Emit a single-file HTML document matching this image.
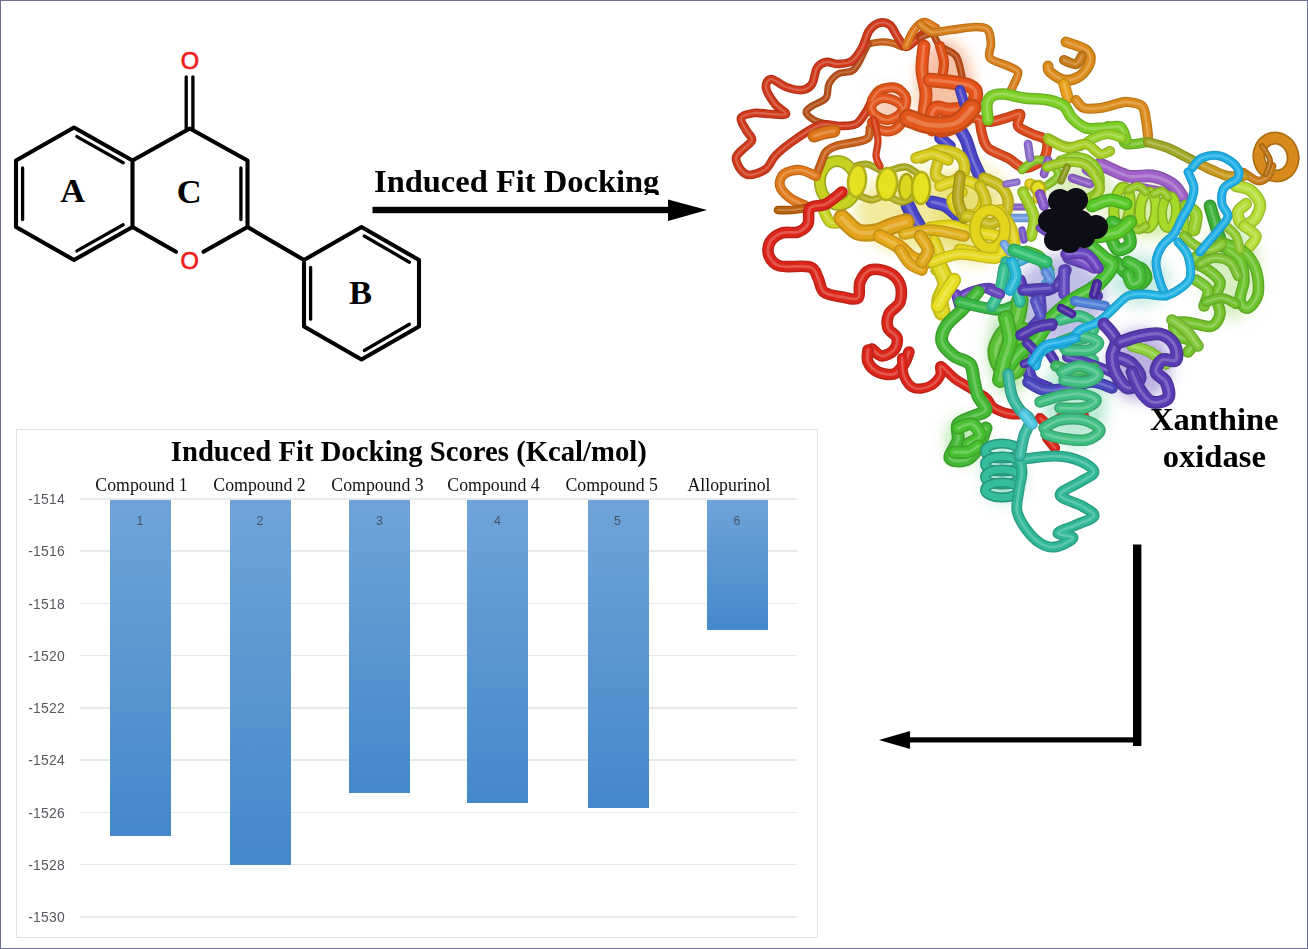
<!DOCTYPE html>
<html>
<head>
<meta charset="utf-8">
<title>Induced Fit Docking - Xanthine oxidase</title>
<style>
html,body{margin:0;padding:0;background:#fff;}
body{width:1308px;height:949px;position:relative;overflow:hidden;font-family:"Liberation Serif",serif;}
#frame{position:absolute;left:0;top:0;width:1306px;height:947px;border:1px solid #6f6c93;box-sizing:content-box;pointer-events:none;}
.abs{position:absolute;white-space:nowrap;}
.bold{font-family:"Liberation Serif",serif;font-weight:bold;color:#000;}
#ifd{left:374px;top:160.8px;height:34.6px;overflow:hidden;font-size:32.5px;line-height:40px;}
#xo{left:1139.3px;top:400.9px;width:150px;text-align:center;font-size:32.6px;line-height:37.4px;}
/* chart */
#chart{position:absolute;left:16px;top:429px;width:800px;height:507px;border:1px solid #dfe2e8;background:#fff;box-sizing:content-box;}
#title{left:170.8px;top:430.6px;font-size:28.7px;line-height:40px;}
.cat{font-family:"Liberation Serif",serif;font-size:17.8px;line-height:20px;color:#111;transform:translateX(-50%);top:475px;}
.yl{font-family:"Liberation Sans",sans-serif;font-size:13.9px;line-height:16px;color:#56595f;left:20px;width:45px;text-align:right;letter-spacing:0.25px;}
.gl{position:absolute;left:80.3px;width:716.5px;height:1.5px;background:#e6e9ee;}
.bar{position:absolute;top:499.8px;width:61px;background:linear-gradient(#70a4d9,#4388cb);}
.dl{font-family:"Liberation Sans",sans-serif;font-size:12.4px;line-height:14px;color:#44566e;transform:translateX(-50%);top:513.5px;}
</style>
</head>
<body>
<!-- PROTEIN -->
<svg id="protein" class="abs" style="left:0;top:0" width="1308" height="949" viewBox="0 0 1308 949">
<!--PROTEIN_START-->
<defs><filter id="pb" x="-5%" y="-5%" width="110%" height="110%"><feGaussianBlur stdDeviation="0.75"/></filter><filter id="ub" x="-30%" y="-30%" width="160%" height="160%"><feGaussianBlur stdDeviation="7"/></filter></defs>
<g fill="none" stroke-linecap="round" stroke-linejoin="round" filter="url(#pb)">
<ellipse cx="925" cy="212" rx="70" ry="42" fill="#e0d020" fill-opacity="0.42" stroke="none" filter="url(#ub)"/>
<ellipse cx="975" cy="215" rx="38" ry="50" fill="#d8cc20" fill-opacity="0.35" stroke="none" filter="url(#ub)"/>
<ellipse cx="945" cy="88" rx="28" ry="48" fill="#e8601c" fill-opacity="0.40" stroke="none" filter="url(#ub)"/>
<ellipse cx="888" cy="110" rx="18" ry="22" fill="#e06020" fill-opacity="0.30" stroke="none" filter="url(#ub)"/>
<ellipse cx="1060" cy="300" rx="45" ry="45" fill="#5858c0" fill-opacity="0.38" stroke="none" filter="url(#ub)"/>
<ellipse cx="1010" cy="350" rx="22" ry="45" fill="#50c038" fill-opacity="0.40" stroke="none" filter="url(#ub)"/>
<ellipse cx="1150" cy="212" rx="44" ry="26" fill="#9cd62c" fill-opacity="0.42" stroke="none" filter="url(#ub)"/>
<ellipse cx="1230" cy="270" rx="30" ry="50" fill="#78c830" fill-opacity="0.30" stroke="none" filter="url(#ub)"/>
<ellipse cx="1140" cy="365" rx="32" ry="36" fill="#5a3cb4" fill-opacity="0.40" stroke="none" filter="url(#ub)"/>
<ellipse cx="1075" cy="400" rx="32" ry="48" fill="#40c088" fill-opacity="0.35" stroke="none" filter="url(#ub)"/>
<ellipse cx="1004" cy="474" rx="20" ry="28" fill="#30b898" fill-opacity="0.45" stroke="none" filter="url(#ub)"/>
<ellipse cx="1080" cy="190" rx="34" ry="24" fill="#90c838" fill-opacity="0.30" stroke="none" filter="url(#ub)"/>
<ellipse cx="1140" cy="280" rx="30" ry="26" fill="#40b8a0" fill-opacity="0.30" stroke="none" filter="url(#ub)"/>
<ellipse cx="965" cy="440" rx="20" ry="24" fill="#48c030" fill-opacity="0.35" stroke="none" filter="url(#ub)"/>
<path d="M958.0 126.0C959.3 128.3 963.7 134.7 966.0 140.0C968.3 145.3 969.7 152.0 972.0 158.0C974.3 164.0 978.7 173.0 980.0 176.0" stroke="#403cac" stroke-width="13.0"/>
<path d="M958.0 126.0C959.3 128.3 963.7 134.7 966.0 140.0C968.3 145.3 969.7 152.0 972.0 158.0C974.3 164.0 978.7 173.0 980.0 176.0" stroke="#4a46c8" stroke-width="9.7"/>
<path d="M958.0 126.0C959.3 128.3 963.7 134.7 966.0 140.0C968.3 145.3 969.7 152.0 972.0 158.0C974.3 164.0 978.7 173.0 980.0 176.0" stroke="#807ed8" stroke-width="3.1" stroke-opacity="0.7"/>
<path d="M940.0 138.0L950.0 146.0" stroke="#403cac" stroke-width="11.6"/>
<path d="M940.0 138.0L950.0 146.0" stroke="#4a46c8" stroke-width="8.6"/>
<path d="M940.0 138.0L950.0 146.0" stroke="#807ed8" stroke-width="2.8" stroke-opacity="0.7"/>
<path d="M908.0 206.0C909.0 208.0 912.0 214.3 914.0 218.0C916.0 221.7 919.0 226.3 920.0 228.0" stroke="#403cac" stroke-width="14.5"/>
<path d="M908.0 206.0C909.0 208.0 912.0 214.3 914.0 218.0C916.0 221.7 919.0 226.3 920.0 228.0" stroke="#4a46c8" stroke-width="10.7"/>
<path d="M908.0 206.0C909.0 208.0 912.0 214.3 914.0 218.0C916.0 221.7 919.0 226.3 920.0 228.0" stroke="#807ed8" stroke-width="3.5" stroke-opacity="0.7"/>
<path d="M932.0 202.0C934.3 202.7 941.3 203.3 946.0 206.0C950.7 208.7 957.7 216.0 960.0 218.0" stroke="#403cac" stroke-width="13.0"/>
<path d="M932.0 202.0C934.3 202.7 941.3 203.3 946.0 206.0C950.7 208.7 957.7 216.0 960.0 218.0" stroke="#4a46c8" stroke-width="9.7"/>
<path d="M932.0 202.0C934.3 202.7 941.3 203.3 946.0 206.0C950.7 208.7 957.7 216.0 960.0 218.0" stroke="#807ed8" stroke-width="3.1" stroke-opacity="0.7"/>
<path d="M1100.0 164.0C1104.7 166.0 1119.3 174.0 1128.0 176.0C1136.7 178.0 1144.7 174.7 1152.0 176.0C1159.3 177.3 1167.0 180.7 1172.0 184.0C1177.0 187.3 1180.3 194.0 1182.0 196.0" stroke="#8a54ac" stroke-width="13.0"/>
<path d="M1100.0 164.0C1104.7 166.0 1119.3 174.0 1128.0 176.0C1136.7 178.0 1144.7 174.7 1152.0 176.0C1159.3 177.3 1167.0 180.7 1172.0 184.0C1177.0 187.3 1180.3 194.0 1182.0 196.0" stroke="#a062c8" stroke-width="9.7"/>
<path d="M1100.0 164.0C1104.7 166.0 1119.3 174.0 1128.0 176.0C1136.7 178.0 1144.7 174.7 1152.0 176.0C1159.3 177.3 1167.0 180.7 1172.0 184.0C1177.0 187.3 1180.3 194.0 1182.0 196.0" stroke="#bc91d8" stroke-width="3.1" stroke-opacity="0.7"/>
<path d="M1134.0 186.0C1136.7 186.5 1144.7 188.0 1150.0 189.0C1155.3 190.0 1163.3 191.5 1166.0 192.0" stroke="#8a54ac" stroke-width="8.7"/>
<path d="M1134.0 186.0C1136.7 186.5 1144.7 188.0 1150.0 189.0C1155.3 190.0 1163.3 191.5 1166.0 192.0" stroke="#a062c8" stroke-width="6.4"/>
<path d="M1134.0 186.0C1136.7 186.5 1144.7 188.0 1150.0 189.0C1155.3 190.0 1163.3 191.5 1166.0 192.0" stroke="#bc91d8" stroke-width="2.1" stroke-opacity="0.7"/>
<path d="M1006.0 207.0L1028.0 207.0" stroke="#7553ac" stroke-width="7.2"/>
<path d="M1006.0 207.0L1028.0 207.0" stroke="#8860c8" stroke-width="5.4"/>
<path d="M1006.0 207.0L1028.0 207.0" stroke="#ac90d8" stroke-width="1.7" stroke-opacity="0.7"/>
<path d="M1008.0 218.0L1028.0 218.0" stroke="#608ac1" stroke-width="8.7"/>
<path d="M1008.0 218.0L1028.0 218.0" stroke="#70a0e0" stroke-width="6.4"/>
<path d="M1008.0 218.0L1028.0 218.0" stroke="#9bbce9" stroke-width="2.1" stroke-opacity="0.7"/>
<path d="M1086.0 170.0L1098.0 178.0" stroke="#7c53ac" stroke-width="8.7"/>
<path d="M1086.0 170.0L1098.0 178.0" stroke="#9060c8" stroke-width="6.4"/>
<path d="M1086.0 170.0L1098.0 178.0" stroke="#b190d8" stroke-width="2.1" stroke-opacity="0.7"/>
<path d="M1020.0 280.0C1021.0 281.7 1021.3 288.3 1026.0 290.0C1030.7 291.7 1042.3 291.3 1048.0 290.0C1053.7 288.7 1057.0 285.3 1060.0 282.0C1063.0 278.7 1065.0 272.0 1066.0 270.0" stroke="#4d349b" stroke-width="11.6"/>
<path d="M1020.0 280.0C1021.0 281.7 1021.3 288.3 1026.0 290.0C1030.7 291.7 1042.3 291.3 1048.0 290.0C1053.7 288.7 1057.0 285.3 1060.0 282.0C1063.0 278.7 1065.0 272.0 1066.0 270.0" stroke="#5a3cb4" stroke-width="8.6"/>
<path d="M1020.0 280.0C1021.0 281.7 1021.3 288.3 1026.0 290.0C1030.7 291.7 1042.3 291.3 1048.0 290.0C1053.7 288.7 1057.0 285.3 1060.0 282.0C1063.0 278.7 1065.0 272.0 1066.0 270.0" stroke="#8c76ca" stroke-width="2.8" stroke-opacity="0.7"/>
<path d="M1040.0 298.0C1040.0 301.3 1042.3 312.3 1040.0 318.0C1037.7 323.7 1028.3 329.7 1026.0 332.0" stroke="#4c3ea5" stroke-width="11.6"/>
<path d="M1040.0 298.0C1040.0 301.3 1042.3 312.3 1040.0 318.0C1037.7 323.7 1028.3 329.7 1026.0 332.0" stroke="#5848c0" stroke-width="8.6"/>
<path d="M1040.0 298.0C1040.0 301.3 1042.3 312.3 1040.0 318.0C1037.7 323.7 1028.3 329.7 1026.0 332.0" stroke="#8a7fd3" stroke-width="2.8" stroke-opacity="0.7"/>
<path d="M1030.0 330.0L1052.0 326.0" stroke="#4d349b" stroke-width="10.2"/>
<path d="M1030.0 330.0L1052.0 326.0" stroke="#5a3cb4" stroke-width="7.5"/>
<path d="M1030.0 330.0L1052.0 326.0" stroke="#8c76ca" stroke-width="2.4" stroke-opacity="0.7"/>
<path d="M1064.0 270.0L1064.0 294.0" stroke="#533ea5" stroke-width="11.6"/>
<path d="M1064.0 270.0L1064.0 294.0" stroke="#6048c0" stroke-width="8.6"/>
<path d="M1064.0 270.0L1064.0 294.0" stroke="#907fd3" stroke-width="2.8" stroke-opacity="0.7"/>
<path d="M1068.0 258.0L1092.0 266.0" stroke="#593ea5" stroke-width="11.6"/>
<path d="M1068.0 258.0L1092.0 266.0" stroke="#6848c0" stroke-width="8.6"/>
<path d="M1068.0 258.0L1092.0 266.0" stroke="#957fd3" stroke-width="2.8" stroke-opacity="0.7"/>
<path d="M1092.0 286.0L1098.0 296.0" stroke="#4d349b" stroke-width="10.2"/>
<path d="M1092.0 286.0L1098.0 296.0" stroke="#5a3cb4" stroke-width="7.5"/>
<path d="M1092.0 286.0L1098.0 296.0" stroke="#8c76ca" stroke-width="2.4" stroke-opacity="0.7"/>
<path d="M1020.0 334.0C1022.0 336.0 1030.7 341.3 1032.0 346.0C1033.3 350.7 1028.0 356.3 1028.0 362.0C1028.0 367.7 1028.7 375.7 1032.0 380.0C1035.3 384.3 1045.3 386.7 1048.0 388.0" stroke="#4537a5" stroke-width="13.0"/>
<path d="M1020.0 334.0C1022.0 336.0 1030.7 341.3 1032.0 346.0C1033.3 350.7 1028.0 356.3 1028.0 362.0C1028.0 367.7 1028.7 375.7 1032.0 380.0C1035.3 384.3 1045.3 386.7 1048.0 388.0" stroke="#5040c0" stroke-width="9.7"/>
<path d="M1020.0 334.0C1022.0 336.0 1030.7 341.3 1032.0 346.0C1033.3 350.7 1028.0 356.3 1028.0 362.0C1028.0 367.7 1028.7 375.7 1032.0 380.0C1035.3 384.3 1045.3 386.7 1048.0 388.0" stroke="#8479d3" stroke-width="3.1" stroke-opacity="0.7"/>
<path d="M1028.0 382.0C1030.7 383.3 1037.3 389.0 1044.0 390.0C1050.7 391.0 1060.0 389.3 1068.0 388.0C1076.0 386.7 1084.7 382.0 1092.0 382.0C1099.3 382.0 1108.7 387.0 1112.0 388.0" stroke="#3e3ea5" stroke-width="11.6"/>
<path d="M1028.0 382.0C1030.7 383.3 1037.3 389.0 1044.0 390.0C1050.7 391.0 1060.0 389.3 1068.0 388.0C1076.0 386.7 1084.7 382.0 1092.0 382.0C1099.3 382.0 1108.7 387.0 1112.0 388.0" stroke="#4848c0" stroke-width="8.6"/>
<path d="M1028.0 382.0C1030.7 383.3 1037.3 389.0 1044.0 390.0C1050.7 391.0 1060.0 389.3 1068.0 388.0C1076.0 386.7 1084.7 382.0 1092.0 382.0C1099.3 382.0 1108.7 387.0 1112.0 388.0" stroke="#7f7fd3" stroke-width="2.8" stroke-opacity="0.7"/>
<path d="M958.0 298.0C960.0 297.0 964.7 293.7 970.0 292.0C975.3 290.3 985.3 287.7 990.0 288.0C994.7 288.3 996.7 293.0 998.0 294.0" stroke="#5b3ea5" stroke-width="10.2"/>
<path d="M958.0 298.0C960.0 297.0 964.7 293.7 970.0 292.0C975.3 290.3 985.3 287.7 990.0 288.0C994.7 288.3 996.7 293.0 998.0 294.0" stroke="#6a48c0" stroke-width="7.5"/>
<path d="M958.0 298.0C960.0 297.0 964.7 293.7 970.0 292.0C975.3 290.3 985.3 287.7 990.0 288.0C994.7 288.3 996.7 293.0 998.0 294.0" stroke="#977fd3" stroke-width="2.4" stroke-opacity="0.7"/>
<path d="M956.0 294.0L960.0 308.0" stroke="#5b3ea5" stroke-width="10.2"/>
<path d="M956.0 294.0L960.0 308.0" stroke="#6a48c0" stroke-width="7.5"/>
<path d="M956.0 294.0L960.0 308.0" stroke="#977fd3" stroke-width="2.4" stroke-opacity="0.7"/>
<path d="M850.0 168.0C852.7 167.3 861.0 163.7 866.0 164.0C871.0 164.3 877.7 169.0 880.0 170.0" stroke="#90921c" stroke-width="7.2"/>
<path d="M850.0 168.0C852.7 167.3 861.0 163.7 866.0 164.0C871.0 164.3 877.7 169.0 880.0 170.0" stroke="#a8aa20" stroke-width="5.4"/>
<path d="M850.0 168.0C852.7 167.3 861.0 163.7 866.0 164.0C871.0 164.3 877.7 169.0 880.0 170.0" stroke="#c2c463" stroke-width="1.7" stroke-opacity="0.7"/>
<path d="M892.0 170.0C894.3 169.5 901.7 166.3 906.0 167.0C910.3 167.7 916.0 172.8 918.0 174.0" stroke="#90921c" stroke-width="7.2"/>
<path d="M892.0 170.0C894.3 169.5 901.7 166.3 906.0 167.0C910.3 167.7 916.0 172.8 918.0 174.0" stroke="#a8aa20" stroke-width="5.4"/>
<path d="M892.0 170.0C894.3 169.5 901.7 166.3 906.0 167.0C910.3 167.7 916.0 172.8 918.0 174.0" stroke="#c2c463" stroke-width="1.7" stroke-opacity="0.7"/>
<path d="M860.0 196.0C862.0 196.7 868.3 200.0 872.0 200.0C875.7 200.0 880.3 196.7 882.0 196.0" stroke="#9b971c" stroke-width="7.2"/>
<path d="M860.0 196.0C862.0 196.7 868.3 200.0 872.0 200.0C875.7 200.0 880.3 196.7 882.0 196.0" stroke="#b4b020" stroke-width="5.4"/>
<path d="M860.0 196.0C862.0 196.7 868.3 200.0 872.0 200.0C875.7 200.0 880.3 196.7 882.0 196.0" stroke="#cac863" stroke-width="1.7" stroke-opacity="0.7"/>
<path d="M892.0 198.0C893.7 198.7 898.7 202.0 902.0 202.0C905.3 202.0 910.3 198.7 912.0 198.0" stroke="#9b971c" stroke-width="7.2"/>
<path d="M892.0 198.0C893.7 198.7 898.7 202.0 902.0 202.0C905.3 202.0 910.3 198.7 912.0 198.0" stroke="#b4b020" stroke-width="5.4"/>
<path d="M892.0 198.0C893.7 198.7 898.7 202.0 902.0 202.0C905.3 202.0 910.3 198.7 912.0 198.0" stroke="#cac863" stroke-width="1.7" stroke-opacity="0.7"/>
<ellipse cx="838.0" cy="183.0" rx="18.0" ry="22.0" stroke="#9ea81b" stroke-width="12.0" transform="rotate(-8 838 183)"/>
<ellipse cx="838.0" cy="183.0" rx="18.0" ry="22.0" stroke="#c6d222" stroke-width="8.6" transform="rotate(-8 838 183)"/>
<ellipse cx="857.0" cy="181.0" rx="9.0" ry="16.0" fill="#e4e022" stroke="#b2af1b" stroke-width="2.5" transform="rotate(6 857 181)"/>
<ellipse cx="887.0" cy="184.0" rx="10.0" ry="16.0" fill="#e6e220" stroke="#b3b019" stroke-width="2.5" transform="rotate(4 887 184)"/>
<ellipse cx="906.0" cy="187.0" rx="7.0" ry="13.0" fill="#dcd820" stroke="#aca819" stroke-width="2.5" transform="rotate(4 906 187)"/>
<ellipse cx="921.0" cy="188.0" rx="9.0" ry="16.0" fill="#e6e220" stroke="#b3b019" stroke-width="2.5" transform="rotate(2 921 188)"/>
<path d="M822.0 206.0C823.3 208.7 826.5 219.3 830.0 222.0C833.5 224.7 840.8 222.0 843.0 222.0" stroke="#acb61f" stroke-width="11.6"/>
<path d="M822.0 206.0C823.3 208.7 826.5 219.3 830.0 222.0C833.5 224.7 840.8 222.0 843.0 222.0" stroke="#c8d424" stroke-width="8.6"/>
<path d="M822.0 206.0C823.3 208.7 826.5 219.3 830.0 222.0C833.5 224.7 840.8 222.0 843.0 222.0" stroke="#d8e166" stroke-width="2.8" stroke-opacity="0.7"/>
<path d="M842.0 218.0C844.7 220.3 852.3 229.7 858.0 232.0C863.7 234.3 870.3 233.0 876.0 232.0C881.7 231.0 887.0 227.7 892.0 226.0C897.0 224.3 903.7 222.7 906.0 222.0" stroke="#c48d18" stroke-width="17.4"/>
<path d="M842.0 218.0C844.7 220.3 852.3 229.7 858.0 232.0C863.7 234.3 870.3 233.0 876.0 232.0C881.7 231.0 887.0 227.7 892.0 226.0C897.0 224.3 903.7 222.7 906.0 222.0" stroke="#e4a41c" stroke-width="12.9"/>
<path d="M842.0 218.0C844.7 220.3 852.3 229.7 858.0 232.0C863.7 234.3 870.3 233.0 876.0 232.0C881.7 231.0 887.0 227.7 892.0 226.0C897.0 224.3 903.7 222.7 906.0 222.0" stroke="#ecbf60" stroke-width="4.2" stroke-opacity="0.7"/>
<path d="M880.0 236.0C883.0 237.7 892.7 242.3 898.0 246.0C903.3 249.7 907.3 255.3 912.0 258.0C916.7 260.7 923.7 261.3 926.0 262.0" stroke="#c89018" stroke-width="14.5"/>
<path d="M880.0 236.0C883.0 237.7 892.7 242.3 898.0 246.0C903.3 249.7 907.3 255.3 912.0 258.0C916.7 260.7 923.7 261.3 926.0 262.0" stroke="#e8a81c" stroke-width="10.7"/>
<path d="M880.0 236.0C883.0 237.7 892.7 242.3 898.0 246.0C903.3 249.7 907.3 255.3 912.0 258.0C916.7 260.7 923.7 261.3 926.0 262.0" stroke="#efc260" stroke-width="3.5" stroke-opacity="0.7"/>
<path d="M900.0 250.0C901.7 252.3 906.3 260.7 910.0 264.0C913.7 267.3 920.0 269.0 922.0 270.0" stroke="#c48d18" stroke-width="11.6"/>
<path d="M900.0 250.0C901.7 252.3 906.3 260.7 910.0 264.0C913.7 267.3 920.0 269.0 922.0 270.0" stroke="#e4a41c" stroke-width="8.6"/>
<path d="M900.0 250.0C901.7 252.3 906.3 260.7 910.0 264.0C913.7 267.3 920.0 269.0 922.0 270.0" stroke="#ecbf60" stroke-width="2.8" stroke-opacity="0.7"/>
<path d="M922.0 158.0C925.0 156.7 933.7 150.3 940.0 150.0C946.3 149.7 956.0 152.3 960.0 156.0C964.0 159.7 965.7 167.7 964.0 172.0C962.3 176.3 954.7 181.3 950.0 182.0C945.3 182.7 938.0 179.3 936.0 176.0C934.0 172.7 937.7 164.3 938.0 162.0" stroke="#b6ac1a" stroke-width="11.6"/>
<path d="M922.0 158.0C925.0 156.7 933.7 150.3 940.0 150.0C946.3 149.7 956.0 152.3 960.0 156.0C964.0 159.7 965.7 167.7 964.0 172.0C962.3 176.3 954.7 181.3 950.0 182.0C945.3 182.7 938.0 179.3 936.0 176.0C934.0 172.7 937.7 164.3 938.0 162.0" stroke="#d4c81e" stroke-width="8.6"/>
<path d="M922.0 158.0C925.0 156.7 933.7 150.3 940.0 150.0C946.3 149.7 956.0 152.3 960.0 156.0C964.0 159.7 965.7 167.7 964.0 172.0C962.3 176.3 954.7 181.3 950.0 182.0C945.3 182.7 938.0 179.3 936.0 176.0C934.0 172.7 937.7 164.3 938.0 162.0" stroke="#e1d862" stroke-width="2.8" stroke-opacity="0.7"/>
<path d="M940.0 186.0C943.3 185.0 953.7 180.0 960.0 180.0C966.3 180.0 974.0 182.7 978.0 186.0C982.0 189.3 984.3 195.3 984.0 200.0C983.7 204.7 980.0 212.0 976.0 214.0C972.0 216.0 964.0 214.3 960.0 212.0C956.0 209.7 951.7 203.3 952.0 200.0C952.3 196.7 960.3 193.3 962.0 192.0" stroke="#c1b61c" stroke-width="11.6"/>
<path d="M940.0 186.0C943.3 185.0 953.7 180.0 960.0 180.0C966.3 180.0 974.0 182.7 978.0 186.0C982.0 189.3 984.3 195.3 984.0 200.0C983.7 204.7 980.0 212.0 976.0 214.0C972.0 216.0 964.0 214.3 960.0 212.0C956.0 209.7 951.7 203.3 952.0 200.0C952.3 196.7 960.3 193.3 962.0 192.0" stroke="#e0d420" stroke-width="8.6"/>
<path d="M940.0 186.0C943.3 185.0 953.7 180.0 960.0 180.0C966.3 180.0 974.0 182.7 978.0 186.0C982.0 189.3 984.3 195.3 984.0 200.0C983.7 204.7 980.0 212.0 976.0 214.0C972.0 216.0 964.0 214.3 960.0 212.0C956.0 209.7 951.7 203.3 952.0 200.0C952.3 196.7 960.3 193.3 962.0 192.0" stroke="#e9e163" stroke-width="2.8" stroke-opacity="0.7"/>
<path d="M984.0 178.0C986.7 179.3 996.0 182.3 1000.0 186.0C1004.0 189.7 1007.3 195.0 1008.0 200.0C1008.7 205.0 1007.0 212.0 1004.0 216.0C1001.0 220.0 994.3 223.7 990.0 224.0C985.7 224.3 980.0 219.0 978.0 218.0" stroke="#aca21a" stroke-width="11.6"/>
<path d="M984.0 178.0C986.7 179.3 996.0 182.3 1000.0 186.0C1004.0 189.7 1007.3 195.0 1008.0 200.0C1008.7 205.0 1007.0 212.0 1004.0 216.0C1001.0 220.0 994.3 223.7 990.0 224.0C985.7 224.3 980.0 219.0 978.0 218.0" stroke="#c8bc1e" stroke-width="8.6"/>
<path d="M984.0 178.0C986.7 179.3 996.0 182.3 1000.0 186.0C1004.0 189.7 1007.3 195.0 1008.0 200.0C1008.7 205.0 1007.0 212.0 1004.0 216.0C1001.0 220.0 994.3 223.7 990.0 224.0C985.7 224.3 980.0 219.0 978.0 218.0" stroke="#d8d062" stroke-width="2.8" stroke-opacity="0.7"/>
<path d="M930.0 228.0C933.3 227.7 943.0 225.3 950.0 226.0C957.0 226.7 964.3 230.3 972.0 232.0C979.7 233.7 990.7 233.7 996.0 236.0C1001.3 238.3 1004.0 242.7 1004.0 246.0C1004.0 249.3 1000.0 254.7 996.0 256.0C992.0 257.3 986.0 255.0 980.0 254.0C974.0 253.0 963.3 250.7 960.0 250.0" stroke="#c8ba1a" stroke-width="13.0"/>
<path d="M930.0 228.0C933.3 227.7 943.0 225.3 950.0 226.0C957.0 226.7 964.3 230.3 972.0 232.0C979.7 233.7 990.7 233.7 996.0 236.0C1001.3 238.3 1004.0 242.7 1004.0 246.0C1004.0 249.3 1000.0 254.7 996.0 256.0C992.0 257.3 986.0 255.0 980.0 254.0C974.0 253.0 963.3 250.7 960.0 250.0" stroke="#e8d81e" stroke-width="9.7"/>
<path d="M930.0 228.0C933.3 227.7 943.0 225.3 950.0 226.0C957.0 226.7 964.3 230.3 972.0 232.0C979.7 233.7 990.7 233.7 996.0 236.0C1001.3 238.3 1004.0 242.7 1004.0 246.0C1004.0 249.3 1000.0 254.7 996.0 256.0C992.0 257.3 986.0 255.0 980.0 254.0C974.0 253.0 963.3 250.7 960.0 250.0" stroke="#efe462" stroke-width="3.1" stroke-opacity="0.7"/>
<path d="M934.0 240.0C935.0 242.7 939.7 251.0 940.0 256.0C940.3 261.0 936.7 267.7 936.0 270.0" stroke="#c1b31c" stroke-width="11.6"/>
<path d="M934.0 240.0C935.0 242.7 939.7 251.0 940.0 256.0C940.3 261.0 936.7 267.7 936.0 270.0" stroke="#e0d020" stroke-width="8.6"/>
<path d="M934.0 240.0C935.0 242.7 939.7 251.0 940.0 256.0C940.3 261.0 936.7 267.7 936.0 270.0" stroke="#e9de63" stroke-width="2.8" stroke-opacity="0.7"/>
<path d="M940.0 268.0C941.0 270.7 946.0 278.7 946.0 284.0C946.0 289.3 940.7 295.3 940.0 300.0C939.3 304.7 941.7 310.0 942.0 312.0" stroke="#c1ba1c" stroke-width="17.4"/>
<path d="M940.0 268.0C941.0 270.7 946.0 278.7 946.0 284.0C946.0 289.3 940.7 295.3 940.0 300.0C939.3 304.7 941.7 310.0 942.0 312.0" stroke="#e0d820" stroke-width="12.9"/>
<path d="M940.0 268.0C941.0 270.7 946.0 278.7 946.0 284.0C946.0 289.3 940.7 295.3 940.0 300.0C939.3 304.7 941.7 310.0 942.0 312.0" stroke="#e9e463" stroke-width="4.2" stroke-opacity="0.7"/>
<path d="M1000.0 210.0C1002.0 213.3 1009.7 223.3 1012.0 230.0C1014.3 236.7 1015.3 245.3 1014.0 250.0C1012.7 254.7 1005.7 256.7 1004.0 258.0" stroke="#c1b31c" stroke-width="11.6"/>
<path d="M1000.0 210.0C1002.0 213.3 1009.7 223.3 1012.0 230.0C1014.3 236.7 1015.3 245.3 1014.0 250.0C1012.7 254.7 1005.7 256.7 1004.0 258.0" stroke="#e0d020" stroke-width="8.6"/>
<path d="M1000.0 210.0C1002.0 213.3 1009.7 223.3 1012.0 230.0C1014.3 236.7 1015.3 245.3 1014.0 250.0C1012.7 254.7 1005.7 256.7 1004.0 258.0" stroke="#e9de63" stroke-width="2.8" stroke-opacity="0.7"/>
<path d="M954.0 280.0C952.7 282.0 948.7 287.7 946.0 292.0C943.3 296.3 939.3 303.7 938.0 306.0" stroke="#c8c11c" stroke-width="14.5"/>
<path d="M954.0 280.0C952.7 282.0 948.7 287.7 946.0 292.0C943.3 296.3 939.3 303.7 938.0 306.0" stroke="#e8e020" stroke-width="10.7"/>
<path d="M954.0 280.0C952.7 282.0 948.7 287.7 946.0 292.0C943.3 296.3 939.3 303.7 938.0 306.0" stroke="#efe963" stroke-width="3.5" stroke-opacity="0.7"/>
<path d="M960.0 176.0C959.7 180.0 957.3 193.0 958.0 200.0C958.7 207.0 963.0 215.0 964.0 218.0" stroke="#9e9018" stroke-width="11.6"/>
<path d="M960.0 176.0C959.7 180.0 957.3 193.0 958.0 200.0C958.7 207.0 963.0 215.0 964.0 218.0" stroke="#b8a81c" stroke-width="8.6"/>
<path d="M960.0 176.0C959.7 180.0 957.3 193.0 958.0 200.0C958.7 207.0 963.0 215.0 964.0 218.0" stroke="#cdc260" stroke-width="2.8" stroke-opacity="0.7"/>
<path d="M980.0 186.0C981.0 188.7 986.0 197.0 986.0 202.0C986.0 207.0 983.3 213.7 980.0 216.0C976.7 218.3 968.3 216.0 966.0 216.0" stroke="#b3a91a" stroke-width="11.6"/>
<path d="M980.0 186.0C981.0 188.7 986.0 197.0 986.0 202.0C986.0 207.0 983.3 213.7 980.0 216.0C976.7 218.3 968.3 216.0 966.0 216.0" stroke="#d0c41e" stroke-width="8.6"/>
<path d="M980.0 186.0C981.0 188.7 986.0 197.0 986.0 202.0C986.0 207.0 983.3 213.7 980.0 216.0C976.7 218.3 968.3 216.0 966.0 216.0" stroke="#ded662" stroke-width="2.8" stroke-opacity="0.7"/>
<ellipse cx="990" cy="229" rx="15" ry="19" stroke="#bbae19" stroke-width="12"/>
<ellipse cx="990" cy="229" rx="15" ry="19" stroke="#e4d41e" stroke-width="9"/>
<path d="M904.0 234.0C908.7 233.3 922.0 229.7 932.0 230.0C942.0 230.3 958.7 235.0 964.0 236.0" stroke="#c19718" stroke-width="11.6"/>
<path d="M904.0 234.0C908.7 233.3 922.0 229.7 932.0 230.0C942.0 230.3 958.7 235.0 964.0 236.0" stroke="#e0b01c" stroke-width="8.6"/>
<path d="M904.0 234.0C908.7 233.3 922.0 229.7 932.0 230.0C942.0 230.3 958.7 235.0 964.0 236.0" stroke="#e9c860" stroke-width="2.8" stroke-opacity="0.7"/>
<path d="M932.0 262.0C936.7 260.7 949.3 254.7 960.0 254.0C970.7 253.3 988.7 259.3 996.0 258.0C1003.3 256.7 1002.7 248.0 1004.0 246.0" stroke="#c6ba1a" stroke-width="11.6"/>
<path d="M932.0 262.0C936.7 260.7 949.3 254.7 960.0 254.0C970.7 253.3 988.7 259.3 996.0 258.0C1003.3 256.7 1002.7 248.0 1004.0 246.0" stroke="#e6d81e" stroke-width="8.6"/>
<path d="M932.0 262.0C936.7 260.7 949.3 254.7 960.0 254.0C970.7 253.3 988.7 259.3 996.0 258.0C1003.3 256.7 1002.7 248.0 1004.0 246.0" stroke="#eee462" stroke-width="2.8" stroke-opacity="0.7"/>
<path d="M916.0 158.0C918.7 157.3 926.7 153.7 932.0 154.0C937.3 154.3 945.3 159.0 948.0 160.0" stroke="#baaf1a" stroke-width="11.6"/>
<path d="M916.0 158.0C918.7 157.3 926.7 153.7 932.0 154.0C937.3 154.3 945.3 159.0 948.0 160.0" stroke="#d8cc1e" stroke-width="8.6"/>
<path d="M916.0 158.0C918.7 157.3 926.7 153.7 932.0 154.0C937.3 154.3 945.3 159.0 948.0 160.0" stroke="#e4db62" stroke-width="2.8" stroke-opacity="0.7"/>
<path d="M1030.0 184.0C1031.7 185.0 1038.7 187.7 1040.0 190.0C1041.3 192.3 1038.3 196.7 1038.0 198.0" stroke="#c1b31c" stroke-width="11.6"/>
<path d="M1030.0 184.0C1031.7 185.0 1038.7 187.7 1040.0 190.0C1041.3 192.3 1038.3 196.7 1038.0 198.0" stroke="#e0d020" stroke-width="8.6"/>
<path d="M1030.0 184.0C1031.7 185.0 1038.7 187.7 1040.0 190.0C1041.3 192.3 1038.3 196.7 1038.0 198.0" stroke="#e9de63" stroke-width="2.8" stroke-opacity="0.7"/>
<path d="M920.0 236.0C921.3 238.3 927.7 245.7 928.0 250.0C928.3 254.3 923.0 260.0 922.0 262.0" stroke="#c19018" stroke-width="13.0"/>
<path d="M920.0 236.0C921.3 238.3 927.7 245.7 928.0 250.0C928.3 254.3 923.0 260.0 922.0 262.0" stroke="#e0a81c" stroke-width="9.7"/>
<path d="M920.0 236.0C921.3 238.3 927.7 245.7 928.0 250.0C928.3 254.3 923.0 260.0 922.0 262.0" stroke="#e9c260" stroke-width="3.1" stroke-opacity="0.7"/>
<path d="M868.0 44.0C870.0 43.7 876.0 42.2 880.0 42.0C884.0 41.8 888.3 42.2 892.0 43.0C895.7 43.8 900.3 46.3 902.0 47.0" stroke="#ac5316" stroke-width="7.2"/>
<path d="M868.0 44.0C870.0 43.7 876.0 42.2 880.0 42.0C884.0 41.8 888.3 42.2 892.0 43.0C895.7 43.8 900.3 46.3 902.0 47.0" stroke="#c8601a" stroke-width="5.4"/>
<path d="M868.0 44.0C870.0 43.7 876.0 42.2 880.0 42.0C884.0 41.8 888.3 42.2 892.0 43.0C895.7 43.8 900.3 46.3 902.0 47.0" stroke="#d8905f" stroke-width="1.7" stroke-opacity="0.7"/>
<path d="M868.0 44.0C867.3 45.3 865.7 48.7 864.0 52.0C862.3 55.3 860.0 60.8 858.0 64.0C856.0 67.2 855.3 69.3 852.0 71.0C848.7 72.7 841.8 71.8 838.0 74.0C834.2 76.2 831.0 80.0 829.0 84.0C827.0 88.0 828.8 94.3 826.0 98.0C823.2 101.7 815.3 103.7 812.0 106.0C808.7 108.3 805.7 109.7 806.0 112.0C806.3 114.3 810.7 118.0 814.0 120.0C817.3 122.0 824.0 123.3 826.0 124.0" stroke="#9c4516" stroke-width="7.2"/>
<path d="M868.0 44.0C867.3 45.3 865.7 48.7 864.0 52.0C862.3 55.3 860.0 60.8 858.0 64.0C856.0 67.2 855.3 69.3 852.0 71.0C848.7 72.7 841.8 71.8 838.0 74.0C834.2 76.2 831.0 80.0 829.0 84.0C827.0 88.0 828.8 94.3 826.0 98.0C823.2 101.7 815.3 103.7 812.0 106.0C808.7 108.3 805.7 109.7 806.0 112.0C806.3 114.3 810.7 118.0 814.0 120.0C817.3 122.0 824.0 123.3 826.0 124.0" stroke="#b5501a" stroke-width="5.4"/>
<path d="M868.0 44.0C867.3 45.3 865.7 48.7 864.0 52.0C862.3 55.3 860.0 60.8 858.0 64.0C856.0 67.2 855.3 69.3 852.0 71.0C848.7 72.7 841.8 71.8 838.0 74.0C834.2 76.2 831.0 80.0 829.0 84.0C827.0 88.0 828.8 94.3 826.0 98.0C823.2 101.7 815.3 103.7 812.0 106.0C808.7 108.3 805.7 109.7 806.0 112.0C806.3 114.3 810.7 118.0 814.0 120.0C817.3 122.0 824.0 123.3 826.0 124.0" stroke="#cb845f" stroke-width="1.7" stroke-opacity="0.7"/>
<path d="M930.0 28.0C928.0 29.7 922.0 34.8 918.0 38.0C914.0 41.2 909.5 47.3 906.0 47.0C902.5 46.7 899.7 39.7 897.0 36.0C894.3 32.3 893.0 27.2 890.0 25.0C887.0 22.8 882.5 22.0 879.0 23.0C875.5 24.0 871.8 26.8 869.0 31.0C866.2 35.2 864.8 43.0 862.0 48.0C859.2 53.0 856.0 58.3 852.0 61.0C848.0 63.7 842.3 63.8 838.0 64.0C833.7 64.2 829.5 61.3 826.0 62.0C822.5 62.7 819.3 64.3 817.0 68.0C814.7 71.7 814.5 80.3 812.0 84.0C809.5 87.7 806.3 89.5 802.0 90.0C797.7 90.5 791.2 88.8 786.0 87.0C780.8 85.2 774.3 78.8 771.0 79.0C767.7 79.2 765.3 83.8 766.0 88.0C766.7 92.2 771.7 99.7 775.0 104.0C778.3 108.3 786.8 112.3 786.0 114.0C785.2 115.7 775.3 114.2 770.0 114.0C764.7 113.8 758.8 112.3 754.0 113.0C749.2 113.7 742.3 115.2 741.0 118.0C739.7 120.8 744.2 126.3 746.0 130.0C747.8 133.7 752.7 136.7 752.0 140.0C751.3 143.3 744.7 147.0 742.0 150.0C739.3 153.0 736.2 154.7 736.0 158.0C735.8 161.3 738.7 167.2 741.0 170.0C743.3 172.8 745.8 175.2 750.0 175.0C754.2 174.8 761.7 172.3 766.0 169.0C770.3 165.7 771.0 160.0 776.0 155.0C781.0 150.0 788.7 144.0 796.0 139.0C803.3 134.0 812.7 127.2 820.0 125.0C827.3 122.8 834.0 126.2 840.0 126.0C846.0 125.8 851.7 126.3 856.0 124.0C860.3 121.7 863.3 116.0 866.0 112.0C868.7 108.0 871.0 102.0 872.0 100.0" stroke="#b23218" stroke-width="8.7"/>
<path d="M930.0 28.0C928.0 29.7 922.0 34.8 918.0 38.0C914.0 41.2 909.5 47.3 906.0 47.0C902.5 46.7 899.7 39.7 897.0 36.0C894.3 32.3 893.0 27.2 890.0 25.0C887.0 22.8 882.5 22.0 879.0 23.0C875.5 24.0 871.8 26.8 869.0 31.0C866.2 35.2 864.8 43.0 862.0 48.0C859.2 53.0 856.0 58.3 852.0 61.0C848.0 63.7 842.3 63.8 838.0 64.0C833.7 64.2 829.5 61.3 826.0 62.0C822.5 62.7 819.3 64.3 817.0 68.0C814.7 71.7 814.5 80.3 812.0 84.0C809.5 87.7 806.3 89.5 802.0 90.0C797.7 90.5 791.2 88.8 786.0 87.0C780.8 85.2 774.3 78.8 771.0 79.0C767.7 79.2 765.3 83.8 766.0 88.0C766.7 92.2 771.7 99.7 775.0 104.0C778.3 108.3 786.8 112.3 786.0 114.0C785.2 115.7 775.3 114.2 770.0 114.0C764.7 113.8 758.8 112.3 754.0 113.0C749.2 113.7 742.3 115.2 741.0 118.0C739.7 120.8 744.2 126.3 746.0 130.0C747.8 133.7 752.7 136.7 752.0 140.0C751.3 143.3 744.7 147.0 742.0 150.0C739.3 153.0 736.2 154.7 736.0 158.0C735.8 161.3 738.7 167.2 741.0 170.0C743.3 172.8 745.8 175.2 750.0 175.0C754.2 174.8 761.7 172.3 766.0 169.0C770.3 165.7 771.0 160.0 776.0 155.0C781.0 150.0 788.7 144.0 796.0 139.0C803.3 134.0 812.7 127.2 820.0 125.0C827.3 122.8 834.0 126.2 840.0 126.0C846.0 125.8 851.7 126.3 856.0 124.0C860.3 121.7 863.3 116.0 866.0 112.0C868.7 108.0 871.0 102.0 872.0 100.0" stroke="#cf3a1c" stroke-width="6.4"/>
<path d="M930.0 28.0C928.0 29.7 922.0 34.8 918.0 38.0C914.0 41.2 909.5 47.3 906.0 47.0C902.5 46.7 899.7 39.7 897.0 36.0C894.3 32.3 893.0 27.2 890.0 25.0C887.0 22.8 882.5 22.0 879.0 23.0C875.5 24.0 871.8 26.8 869.0 31.0C866.2 35.2 864.8 43.0 862.0 48.0C859.2 53.0 856.0 58.3 852.0 61.0C848.0 63.7 842.3 63.8 838.0 64.0C833.7 64.2 829.5 61.3 826.0 62.0C822.5 62.7 819.3 64.3 817.0 68.0C814.7 71.7 814.5 80.3 812.0 84.0C809.5 87.7 806.3 89.5 802.0 90.0C797.7 90.5 791.2 88.8 786.0 87.0C780.8 85.2 774.3 78.8 771.0 79.0C767.7 79.2 765.3 83.8 766.0 88.0C766.7 92.2 771.7 99.7 775.0 104.0C778.3 108.3 786.8 112.3 786.0 114.0C785.2 115.7 775.3 114.2 770.0 114.0C764.7 113.8 758.8 112.3 754.0 113.0C749.2 113.7 742.3 115.2 741.0 118.0C739.7 120.8 744.2 126.3 746.0 130.0C747.8 133.7 752.7 136.7 752.0 140.0C751.3 143.3 744.7 147.0 742.0 150.0C739.3 153.0 736.2 154.7 736.0 158.0C735.8 161.3 738.7 167.2 741.0 170.0C743.3 172.8 745.8 175.2 750.0 175.0C754.2 174.8 761.7 172.3 766.0 169.0C770.3 165.7 771.0 160.0 776.0 155.0C781.0 150.0 788.7 144.0 796.0 139.0C803.3 134.0 812.7 127.2 820.0 125.0C827.3 122.8 834.0 126.2 840.0 126.0C846.0 125.8 851.7 126.3 856.0 124.0C860.3 121.7 863.3 116.0 866.0 112.0C868.7 108.0 871.0 102.0 872.0 100.0" stroke="#dd7560" stroke-width="2.1" stroke-opacity="0.7"/>
<path d="M906.0 46.0C907.3 43.3 911.0 34.0 914.0 30.0C917.0 26.0 920.3 22.3 924.0 22.0C927.7 21.7 934.0 27.0 936.0 28.0" stroke="#c16918" stroke-width="8.7"/>
<path d="M906.0 46.0C907.3 43.3 911.0 34.0 914.0 30.0C917.0 26.0 920.3 22.3 924.0 22.0C927.7 21.7 934.0 27.0 936.0 28.0" stroke="#e07a1c" stroke-width="6.4"/>
<path d="M906.0 46.0C907.3 43.3 911.0 34.0 914.0 30.0C917.0 26.0 920.3 22.3 924.0 22.0C927.7 21.7 934.0 27.0 936.0 28.0" stroke="#e9a260" stroke-width="2.1" stroke-opacity="0.7"/>
<path d="M870.0 128.0C869.7 129.7 870.3 135.7 868.0 138.0C865.7 140.3 861.3 140.7 856.0 142.0C850.7 143.3 841.0 144.3 836.0 146.0C831.0 147.7 828.7 148.7 826.0 152.0C823.3 155.3 821.7 162.0 820.0 166.0C818.3 170.0 816.7 174.3 816.0 176.0" stroke="#ac5318" stroke-width="8.7"/>
<path d="M870.0 128.0C869.7 129.7 870.3 135.7 868.0 138.0C865.7 140.3 861.3 140.7 856.0 142.0C850.7 143.3 841.0 144.3 836.0 146.0C831.0 147.7 828.7 148.7 826.0 152.0C823.3 155.3 821.7 162.0 820.0 166.0C818.3 170.0 816.7 174.3 816.0 176.0" stroke="#c8601c" stroke-width="6.4"/>
<path d="M870.0 128.0C869.7 129.7 870.3 135.7 868.0 138.0C865.7 140.3 861.3 140.7 856.0 142.0C850.7 143.3 841.0 144.3 836.0 146.0C831.0 147.7 828.7 148.7 826.0 152.0C823.3 155.3 821.7 162.0 820.0 166.0C818.3 170.0 816.7 174.3 816.0 176.0" stroke="#d89060" stroke-width="2.1" stroke-opacity="0.7"/>
<path d="M814.0 136.0C815.7 135.5 820.7 133.8 824.0 133.0C827.3 132.2 832.3 131.3 834.0 131.0" stroke="#c16516" stroke-width="13.0"/>
<path d="M814.0 136.0C815.7 135.5 820.7 133.8 824.0 133.0C827.3 132.2 832.3 131.3 834.0 131.0" stroke="#e0761a" stroke-width="9.7"/>
<path d="M814.0 136.0C815.7 135.5 820.7 133.8 824.0 133.0C827.3 132.2 832.3 131.3 834.0 131.0" stroke="#e99f5f" stroke-width="3.1" stroke-opacity="0.7"/>
<path d="M872.0 100.0C873.3 98.3 876.0 92.0 880.0 90.0C884.0 88.0 891.7 86.7 896.0 88.0C900.3 89.3 905.0 94.0 906.0 98.0C907.0 102.0 905.0 108.3 902.0 112.0C899.0 115.7 892.7 119.7 888.0 120.0C883.3 120.3 876.7 116.7 874.0 114.0C871.3 111.3 870.3 106.7 872.0 104.0C873.7 101.3 879.3 98.0 884.0 98.0C888.7 98.0 896.7 100.7 900.0 104.0C903.3 107.3 905.0 113.7 904.0 118.0C903.0 122.3 898.0 128.0 894.0 130.0C890.0 132.0 883.7 131.3 880.0 130.0C876.3 128.7 873.3 123.3 872.0 122.0" stroke="#c24916" stroke-width="10.2"/>
<path d="M872.0 100.0C873.3 98.3 876.0 92.0 880.0 90.0C884.0 88.0 891.7 86.7 896.0 88.0C900.3 89.3 905.0 94.0 906.0 98.0C907.0 102.0 905.0 108.3 902.0 112.0C899.0 115.7 892.7 119.7 888.0 120.0C883.3 120.3 876.7 116.7 874.0 114.0C871.3 111.3 870.3 106.7 872.0 104.0C873.7 101.3 879.3 98.0 884.0 98.0C888.7 98.0 896.7 100.7 900.0 104.0C903.3 107.3 905.0 113.7 904.0 118.0C903.0 122.3 898.0 128.0 894.0 130.0C890.0 132.0 883.7 131.3 880.0 130.0C876.3 128.7 873.3 123.3 872.0 122.0" stroke="#e2551a" stroke-width="7.5"/>
<path d="M872.0 100.0C873.3 98.3 876.0 92.0 880.0 90.0C884.0 88.0 891.7 86.7 896.0 88.0C900.3 89.3 905.0 94.0 906.0 98.0C907.0 102.0 905.0 108.3 902.0 112.0C899.0 115.7 892.7 119.7 888.0 120.0C883.3 120.3 876.7 116.7 874.0 114.0C871.3 111.3 870.3 106.7 872.0 104.0C873.7 101.3 879.3 98.0 884.0 98.0C888.7 98.0 896.7 100.7 900.0 104.0C903.3 107.3 905.0 113.7 904.0 118.0C903.0 122.3 898.0 128.0 894.0 130.0C890.0 132.0 883.7 131.3 880.0 130.0C876.3 128.7 873.3 123.3 872.0 122.0" stroke="#eb885f" stroke-width="2.4" stroke-opacity="0.7"/>
<path d="M874.0 120.0C874.7 123.3 877.7 134.0 878.0 140.0C878.3 146.0 875.7 151.7 876.0 156.0C876.3 160.3 879.3 164.3 880.0 166.0" stroke="#ba3716" stroke-width="7.2"/>
<path d="M874.0 120.0C874.7 123.3 877.7 134.0 878.0 140.0C878.3 146.0 875.7 151.7 876.0 156.0C876.3 160.3 879.3 164.3 880.0 166.0" stroke="#d8401a" stroke-width="5.4"/>
<path d="M874.0 120.0C874.7 123.3 877.7 134.0 878.0 140.0C878.3 146.0 875.7 151.7 876.0 156.0C876.3 160.3 879.3 164.3 880.0 166.0" stroke="#e4795f" stroke-width="1.7" stroke-opacity="0.7"/>
<path d="M920.0 38.0C922.0 37.3 928.7 32.7 932.0 34.0C935.3 35.3 936.0 42.3 940.0 46.0C944.0 49.7 952.3 51.0 956.0 56.0C959.7 61.0 961.0 72.7 962.0 76.0" stroke="#9e4011" stroke-width="7.2"/>
<path d="M920.0 38.0C922.0 37.3 928.7 32.7 932.0 34.0C935.3 35.3 936.0 42.3 940.0 46.0C944.0 49.7 952.3 51.0 956.0 56.0C959.7 61.0 961.0 72.7 962.0 76.0" stroke="#b84a14" stroke-width="5.4"/>
<path d="M920.0 38.0C922.0 37.3 928.7 32.7 932.0 34.0C935.3 35.3 936.0 42.3 940.0 46.0C944.0 49.7 952.3 51.0 956.0 56.0C959.7 61.0 961.0 72.7 962.0 76.0" stroke="#cd805b" stroke-width="1.7" stroke-opacity="0.7"/>
<path d="M924.0 46.0C923.7 50.0 921.7 62.0 922.0 70.0C922.3 78.0 925.7 86.0 926.0 94.0C926.3 102.0 923.0 112.0 924.0 118.0C925.0 124.0 930.7 128.0 932.0 130.0" stroke="#c84816" stroke-width="13.0"/>
<path d="M924.0 46.0C923.7 50.0 921.7 62.0 922.0 70.0C922.3 78.0 925.7 86.0 926.0 94.0C926.3 102.0 923.0 112.0 924.0 118.0C925.0 124.0 930.7 128.0 932.0 130.0" stroke="#e8541a" stroke-width="9.7"/>
<path d="M924.0 46.0C923.7 50.0 921.7 62.0 922.0 70.0C922.3 78.0 925.7 86.0 926.0 94.0C926.3 102.0 923.0 112.0 924.0 118.0C925.0 124.0 930.7 128.0 932.0 130.0" stroke="#ef875f" stroke-width="3.1" stroke-opacity="0.7"/>
<path d="M940.0 46.0C940.7 48.7 943.7 56.7 944.0 62.0C944.3 67.3 942.3 75.3 942.0 78.0" stroke="#c14515" stroke-width="10.2"/>
<path d="M940.0 46.0C940.7 48.7 943.7 56.7 944.0 62.0C944.3 67.3 942.3 75.3 942.0 78.0" stroke="#e05018" stroke-width="7.5"/>
<path d="M940.0 46.0C940.7 48.7 943.7 56.7 944.0 62.0C944.3 67.3 942.3 75.3 942.0 78.0" stroke="#e9845d" stroke-width="2.4" stroke-opacity="0.7"/>
<path d="M930.0 80.0C933.3 80.3 943.3 81.0 950.0 82.0C956.7 83.0 965.7 84.0 970.0 86.0C974.3 88.0 976.0 90.7 976.0 94.0C976.0 97.3 974.3 103.3 970.0 106.0C965.7 108.7 955.7 109.7 950.0 110.0C944.3 110.3 939.0 106.7 936.0 108.0C933.0 109.3 931.3 114.3 932.0 118.0C932.7 121.7 936.0 128.7 940.0 130.0C944.0 131.3 951.0 128.3 956.0 126.0C961.0 123.7 967.7 117.7 970.0 116.0" stroke="#c84816" stroke-width="14.5"/>
<path d="M930.0 80.0C933.3 80.3 943.3 81.0 950.0 82.0C956.7 83.0 965.7 84.0 970.0 86.0C974.3 88.0 976.0 90.7 976.0 94.0C976.0 97.3 974.3 103.3 970.0 106.0C965.7 108.7 955.7 109.7 950.0 110.0C944.3 110.3 939.0 106.7 936.0 108.0C933.0 109.3 931.3 114.3 932.0 118.0C932.7 121.7 936.0 128.7 940.0 130.0C944.0 131.3 951.0 128.3 956.0 126.0C961.0 123.7 967.7 117.7 970.0 116.0" stroke="#e8541a" stroke-width="10.7"/>
<path d="M930.0 80.0C933.3 80.3 943.3 81.0 950.0 82.0C956.7 83.0 965.7 84.0 970.0 86.0C974.3 88.0 976.0 90.7 976.0 94.0C976.0 97.3 974.3 103.3 970.0 106.0C965.7 108.7 955.7 109.7 950.0 110.0C944.3 110.3 939.0 106.7 936.0 108.0C933.0 109.3 931.3 114.3 932.0 118.0C932.7 121.7 936.0 128.7 940.0 130.0C944.0 131.3 951.0 128.3 956.0 126.0C961.0 123.7 967.7 117.7 970.0 116.0" stroke="#ef875f" stroke-width="3.5" stroke-opacity="0.7"/>
<path d="M920.0 24.0C922.0 25.3 927.0 31.0 932.0 32.0C937.0 33.0 942.7 30.8 950.0 30.0C957.3 29.2 969.7 27.0 976.0 27.0C982.3 27.0 985.5 27.2 988.0 30.0C990.5 32.8 990.7 39.3 991.0 44.0C991.3 48.7 987.2 54.3 990.0 58.0C992.8 61.7 1003.3 63.7 1008.0 66.0C1012.7 68.3 1017.0 69.0 1018.0 72.0C1019.0 75.0 1015.3 80.7 1014.0 84.0C1012.7 87.3 1010.7 90.7 1010.0 92.0" stroke="#ba6e18" stroke-width="8.7"/>
<path d="M920.0 24.0C922.0 25.3 927.0 31.0 932.0 32.0C937.0 33.0 942.7 30.8 950.0 30.0C957.3 29.2 969.7 27.0 976.0 27.0C982.3 27.0 985.5 27.2 988.0 30.0C990.5 32.8 990.7 39.3 991.0 44.0C991.3 48.7 987.2 54.3 990.0 58.0C992.8 61.7 1003.3 63.7 1008.0 66.0C1012.7 68.3 1017.0 69.0 1018.0 72.0C1019.0 75.0 1015.3 80.7 1014.0 84.0C1012.7 87.3 1010.7 90.7 1010.0 92.0" stroke="#d8801c" stroke-width="6.4"/>
<path d="M920.0 24.0C922.0 25.3 927.0 31.0 932.0 32.0C937.0 33.0 942.7 30.8 950.0 30.0C957.3 29.2 969.7 27.0 976.0 27.0C982.3 27.0 985.5 27.2 988.0 30.0C990.5 32.8 990.7 39.3 991.0 44.0C991.3 48.7 987.2 54.3 990.0 58.0C992.8 61.7 1003.3 63.7 1008.0 66.0C1012.7 68.3 1017.0 69.0 1018.0 72.0C1019.0 75.0 1015.3 80.7 1014.0 84.0C1012.7 87.3 1010.7 90.7 1010.0 92.0" stroke="#e4a660" stroke-width="2.1" stroke-opacity="0.7"/>
<path d="M970.0 116.0C973.0 117.0 982.0 121.7 988.0 122.0C994.0 122.3 1000.7 119.3 1006.0 118.0C1011.3 116.7 1018.0 112.7 1020.0 114.0C1022.0 115.3 1016.0 122.7 1018.0 126.0C1020.0 129.3 1027.3 131.7 1032.0 134.0C1036.7 136.3 1043.7 136.7 1046.0 140.0C1048.3 143.3 1047.0 150.3 1046.0 154.0C1045.0 157.7 1043.7 159.7 1040.0 162.0C1036.3 164.3 1029.3 168.7 1024.0 168.0C1018.7 167.3 1014.0 161.3 1008.0 158.0C1002.0 154.7 992.3 152.0 988.0 148.0C983.7 144.0 983.3 138.3 982.0 134.0C980.7 129.7 980.3 124.0 980.0 122.0" stroke="#bd4018" stroke-width="10.2"/>
<path d="M970.0 116.0C973.0 117.0 982.0 121.7 988.0 122.0C994.0 122.3 1000.7 119.3 1006.0 118.0C1011.3 116.7 1018.0 112.7 1020.0 114.0C1022.0 115.3 1016.0 122.7 1018.0 126.0C1020.0 129.3 1027.3 131.7 1032.0 134.0C1036.7 136.3 1043.7 136.7 1046.0 140.0C1048.3 143.3 1047.0 150.3 1046.0 154.0C1045.0 157.7 1043.7 159.7 1040.0 162.0C1036.3 164.3 1029.3 168.7 1024.0 168.0C1018.7 167.3 1014.0 161.3 1008.0 158.0C1002.0 154.7 992.3 152.0 988.0 148.0C983.7 144.0 983.3 138.3 982.0 134.0C980.7 129.7 980.3 124.0 980.0 122.0" stroke="#dc4a1c" stroke-width="7.5"/>
<path d="M970.0 116.0C973.0 117.0 982.0 121.7 988.0 122.0C994.0 122.3 1000.7 119.3 1006.0 118.0C1011.3 116.7 1018.0 112.7 1020.0 114.0C1022.0 115.3 1016.0 122.7 1018.0 126.0C1020.0 129.3 1027.3 131.7 1032.0 134.0C1036.7 136.3 1043.7 136.7 1046.0 140.0C1048.3 143.3 1047.0 150.3 1046.0 154.0C1045.0 157.7 1043.7 159.7 1040.0 162.0C1036.3 164.3 1029.3 168.7 1024.0 168.0C1018.7 167.3 1014.0 161.3 1008.0 158.0C1002.0 154.7 992.3 152.0 988.0 148.0C983.7 144.0 983.3 138.3 982.0 134.0C980.7 129.7 980.3 124.0 980.0 122.0" stroke="#e68060" stroke-width="2.4" stroke-opacity="0.7"/>
<path d="M1066.0 42.0C1069.3 43.3 1082.0 46.7 1086.0 50.0C1090.0 53.3 1091.0 57.7 1090.0 62.0C1089.0 66.3 1084.3 73.0 1080.0 76.0C1075.7 79.0 1069.0 80.7 1064.0 80.0C1059.0 79.3 1052.7 74.3 1050.0 72.0C1047.3 69.7 1048.3 67.0 1048.0 66.0" stroke="#bd7818" stroke-width="10.9"/>
<path d="M1066.0 42.0C1069.3 43.3 1082.0 46.7 1086.0 50.0C1090.0 53.3 1091.0 57.7 1090.0 62.0C1089.0 66.3 1084.3 73.0 1080.0 76.0C1075.7 79.0 1069.0 80.7 1064.0 80.0C1059.0 79.3 1052.7 74.3 1050.0 72.0C1047.3 69.7 1048.3 67.0 1048.0 66.0" stroke="#dc8c1c" stroke-width="8.0"/>
<path d="M1066.0 42.0C1069.3 43.3 1082.0 46.7 1086.0 50.0C1090.0 53.3 1091.0 57.7 1090.0 62.0C1089.0 66.3 1084.3 73.0 1080.0 76.0C1075.7 79.0 1069.0 80.7 1064.0 80.0C1059.0 79.3 1052.7 74.3 1050.0 72.0C1047.3 69.7 1048.3 67.0 1048.0 66.0" stroke="#e6ae60" stroke-width="2.6" stroke-opacity="0.7"/>
<path d="M1064.0 60.0C1066.0 60.7 1073.0 64.7 1076.0 64.0C1079.0 63.3 1081.0 57.3 1082.0 56.0" stroke="#ac6b16" stroke-width="10.2"/>
<path d="M1064.0 60.0C1066.0 60.7 1073.0 64.7 1076.0 64.0C1079.0 63.3 1081.0 57.3 1082.0 56.0" stroke="#c87c1a" stroke-width="7.5"/>
<path d="M1064.0 60.0C1066.0 60.7 1073.0 64.7 1076.0 64.0C1079.0 63.3 1081.0 57.3 1082.0 56.0" stroke="#d8a35f" stroke-width="2.4" stroke-opacity="0.7"/>
<path d="M1064.0 84.0L1068.0 98.0" stroke="#c88a18" stroke-width="11.6"/>
<path d="M1064.0 84.0L1068.0 98.0" stroke="#e8a01c" stroke-width="8.6"/>
<path d="M1064.0 84.0L1068.0 98.0" stroke="#efbc60" stroke-width="2.8" stroke-opacity="0.7"/>
<path d="M1076.0 100.0C1077.3 101.3 1080.0 106.7 1084.0 108.0C1088.0 109.3 1094.0 108.8 1100.0 108.0C1106.0 107.2 1115.3 104.0 1120.0 103.0C1124.7 102.0 1124.3 101.5 1128.0 102.0C1131.7 102.5 1139.0 103.0 1142.0 106.0C1145.0 109.0 1145.0 115.0 1146.0 120.0C1147.0 125.0 1147.7 133.3 1148.0 136.0" stroke="#bd7818" stroke-width="10.2"/>
<path d="M1076.0 100.0C1077.3 101.3 1080.0 106.7 1084.0 108.0C1088.0 109.3 1094.0 108.8 1100.0 108.0C1106.0 107.2 1115.3 104.0 1120.0 103.0C1124.7 102.0 1124.3 101.5 1128.0 102.0C1131.7 102.5 1139.0 103.0 1142.0 106.0C1145.0 109.0 1145.0 115.0 1146.0 120.0C1147.0 125.0 1147.7 133.3 1148.0 136.0" stroke="#dc8c1c" stroke-width="7.5"/>
<path d="M1076.0 100.0C1077.3 101.3 1080.0 106.7 1084.0 108.0C1088.0 109.3 1094.0 108.8 1100.0 108.0C1106.0 107.2 1115.3 104.0 1120.0 103.0C1124.7 102.0 1124.3 101.5 1128.0 102.0C1131.7 102.5 1139.0 103.0 1142.0 106.0C1145.0 109.0 1145.0 115.0 1146.0 120.0C1147.0 125.0 1147.7 133.3 1148.0 136.0" stroke="#e6ae60" stroke-width="2.4" stroke-opacity="0.7"/>
<ellipse cx="1276.0" cy="157.0" rx="17.0" ry="19.0" stroke="#ad6e16" stroke-width="13.0" transform="rotate(-15 1276 157)"/>
<ellipse cx="1276.0" cy="157.0" rx="17.0" ry="19.0" stroke="#d88a1c" stroke-width="9.4" transform="rotate(-15 1276 157)"/>
<path d="M1243.0 172.0C1245.5 173.5 1253.8 180.3 1258.0 181.0C1262.2 181.7 1265.7 178.5 1268.0 176.0C1270.3 173.5 1271.3 167.7 1272.0 166.0" stroke="#ac6b15" stroke-width="8.7"/>
<path d="M1243.0 172.0C1245.5 173.5 1253.8 180.3 1258.0 181.0C1262.2 181.7 1265.7 178.5 1268.0 176.0C1270.3 173.5 1271.3 167.7 1272.0 166.0" stroke="#c87c18" stroke-width="6.4"/>
<path d="M1243.0 172.0C1245.5 173.5 1253.8 180.3 1258.0 181.0C1262.2 181.7 1265.7 178.5 1268.0 176.0C1270.3 173.5 1271.3 167.7 1272.0 166.0" stroke="#d8a35d" stroke-width="2.1" stroke-opacity="0.7"/>
<path d="M1262.0 146.0C1263.3 148.3 1269.3 155.3 1270.0 160.0C1270.7 164.7 1266.7 171.7 1266.0 174.0" stroke="#9e6011" stroke-width="5.8"/>
<path d="M1262.0 146.0C1263.3 148.3 1269.3 155.3 1270.0 160.0C1270.7 164.7 1266.7 171.7 1266.0 174.0" stroke="#b87014" stroke-width="4.3"/>
<path d="M1262.0 146.0C1263.3 148.3 1269.3 155.3 1270.0 160.0C1270.7 164.7 1266.7 171.7 1266.0 174.0" stroke="#cd9b5b" stroke-width="1.4" stroke-opacity="0.7"/>
<path d="M816.0 176.0C813.3 175.0 805.3 170.3 800.0 170.0C794.7 169.7 787.3 171.3 784.0 174.0C780.7 176.7 779.0 182.0 780.0 186.0C781.0 190.0 785.7 194.7 790.0 198.0C794.3 201.3 803.3 204.7 806.0 206.0" stroke="#c16918" stroke-width="10.2"/>
<path d="M816.0 176.0C813.3 175.0 805.3 170.3 800.0 170.0C794.7 169.7 787.3 171.3 784.0 174.0C780.7 176.7 779.0 182.0 780.0 186.0C781.0 190.0 785.7 194.7 790.0 198.0C794.3 201.3 803.3 204.7 806.0 206.0" stroke="#e07a1c" stroke-width="7.5"/>
<path d="M816.0 176.0C813.3 175.0 805.3 170.3 800.0 170.0C794.7 169.7 787.3 171.3 784.0 174.0C780.7 176.7 779.0 182.0 780.0 186.0C781.0 190.0 785.7 194.7 790.0 198.0C794.3 201.3 803.3 204.7 806.0 206.0" stroke="#e9a260" stroke-width="2.4" stroke-opacity="0.7"/>
<path d="M778.0 210.0C780.3 210.0 787.3 210.3 792.0 210.0C796.7 209.7 803.7 208.3 806.0 208.0" stroke="#9e530d" stroke-width="8.7"/>
<path d="M778.0 210.0C780.3 210.0 787.3 210.3 792.0 210.0C796.7 209.7 803.7 208.3 806.0 208.0" stroke="#b8600f" stroke-width="6.4"/>
<path d="M778.0 210.0C780.3 210.0 787.3 210.3 792.0 210.0C796.7 209.7 803.7 208.3 806.0 208.0" stroke="#cd9057" stroke-width="2.1" stroke-opacity="0.7"/>
<path d="M842.0 192.0C839.3 194.0 831.3 201.3 826.0 204.0C820.7 206.7 813.0 204.7 810.0 208.0C807.0 211.3 810.0 220.0 808.0 224.0C806.0 228.0 802.3 230.5 798.0 232.0C793.7 233.5 786.7 231.3 782.0 233.0C777.3 234.7 772.2 238.2 770.0 242.0C767.8 245.8 767.3 252.0 769.0 256.0C770.7 260.0 773.2 264.2 780.0 266.0C786.8 267.8 803.7 265.0 810.0 267.0C816.3 269.0 815.7 273.8 818.0 278.0C820.3 282.2 820.0 288.8 824.0 292.0C828.0 295.2 836.3 296.0 842.0 297.0C847.7 298.0 855.0 300.5 858.0 298.0C861.0 295.5 858.0 286.7 860.0 282.0C862.0 277.3 865.3 271.7 870.0 270.0C874.7 268.3 883.0 269.7 888.0 272.0C893.0 274.3 898.0 279.0 900.0 284.0C902.0 289.0 901.8 297.0 900.0 302.0C898.2 307.0 891.0 309.7 889.0 314.0C887.0 318.3 886.7 324.0 888.0 328.0C889.3 332.0 896.0 334.3 897.0 338.0C898.0 341.7 896.5 347.0 894.0 350.0C891.5 353.0 885.7 356.2 882.0 356.0C878.3 355.8 873.7 350.2 872.0 349.0" stroke="#bd2218" stroke-width="11.6"/>
<path d="M842.0 192.0C839.3 194.0 831.3 201.3 826.0 204.0C820.7 206.7 813.0 204.7 810.0 208.0C807.0 211.3 810.0 220.0 808.0 224.0C806.0 228.0 802.3 230.5 798.0 232.0C793.7 233.5 786.7 231.3 782.0 233.0C777.3 234.7 772.2 238.2 770.0 242.0C767.8 245.8 767.3 252.0 769.0 256.0C770.7 260.0 773.2 264.2 780.0 266.0C786.8 267.8 803.7 265.0 810.0 267.0C816.3 269.0 815.7 273.8 818.0 278.0C820.3 282.2 820.0 288.8 824.0 292.0C828.0 295.2 836.3 296.0 842.0 297.0C847.7 298.0 855.0 300.5 858.0 298.0C861.0 295.5 858.0 286.7 860.0 282.0C862.0 277.3 865.3 271.7 870.0 270.0C874.7 268.3 883.0 269.7 888.0 272.0C893.0 274.3 898.0 279.0 900.0 284.0C902.0 289.0 901.8 297.0 900.0 302.0C898.2 307.0 891.0 309.7 889.0 314.0C887.0 318.3 886.7 324.0 888.0 328.0C889.3 332.0 896.0 334.3 897.0 338.0C898.0 341.7 896.5 347.0 894.0 350.0C891.5 353.0 885.7 356.2 882.0 356.0C878.3 355.8 873.7 350.2 872.0 349.0" stroke="#dc281c" stroke-width="8.6"/>
<path d="M842.0 192.0C839.3 194.0 831.3 201.3 826.0 204.0C820.7 206.7 813.0 204.7 810.0 208.0C807.0 211.3 810.0 220.0 808.0 224.0C806.0 228.0 802.3 230.5 798.0 232.0C793.7 233.5 786.7 231.3 782.0 233.0C777.3 234.7 772.2 238.2 770.0 242.0C767.8 245.8 767.3 252.0 769.0 256.0C770.7 260.0 773.2 264.2 780.0 266.0C786.8 267.8 803.7 265.0 810.0 267.0C816.3 269.0 815.7 273.8 818.0 278.0C820.3 282.2 820.0 288.8 824.0 292.0C828.0 295.2 836.3 296.0 842.0 297.0C847.7 298.0 855.0 300.5 858.0 298.0C861.0 295.5 858.0 286.7 860.0 282.0C862.0 277.3 865.3 271.7 870.0 270.0C874.7 268.3 883.0 269.7 888.0 272.0C893.0 274.3 898.0 279.0 900.0 284.0C902.0 289.0 901.8 297.0 900.0 302.0C898.2 307.0 891.0 309.7 889.0 314.0C887.0 318.3 886.7 324.0 888.0 328.0C889.3 332.0 896.0 334.3 897.0 338.0C898.0 341.7 896.5 347.0 894.0 350.0C891.5 353.0 885.7 356.2 882.0 356.0C878.3 355.8 873.7 350.2 872.0 349.0" stroke="#e66960" stroke-width="2.8" stroke-opacity="0.7"/>
<path d="M868.0 350.0C868.0 352.0 866.3 358.3 868.0 362.0C869.7 365.7 873.7 370.0 878.0 372.0C882.3 374.0 889.7 375.3 894.0 374.0C898.3 372.7 901.5 367.7 904.0 364.0C906.5 360.3 908.2 354.0 909.0 352.0" stroke="#bd2218" stroke-width="11.6"/>
<path d="M868.0 350.0C868.0 352.0 866.3 358.3 868.0 362.0C869.7 365.7 873.7 370.0 878.0 372.0C882.3 374.0 889.7 375.3 894.0 374.0C898.3 372.7 901.5 367.7 904.0 364.0C906.5 360.3 908.2 354.0 909.0 352.0" stroke="#dc281c" stroke-width="8.6"/>
<path d="M868.0 350.0C868.0 352.0 866.3 358.3 868.0 362.0C869.7 365.7 873.7 370.0 878.0 372.0C882.3 374.0 889.7 375.3 894.0 374.0C898.3 372.7 901.5 367.7 904.0 364.0C906.5 360.3 908.2 354.0 909.0 352.0" stroke="#e66960" stroke-width="2.8" stroke-opacity="0.7"/>
<path d="M902.0 358.0C902.3 361.0 902.0 371.0 904.0 376.0C906.0 381.0 909.7 386.3 914.0 388.0C918.3 389.7 925.7 388.0 930.0 386.0C934.3 384.0 938.2 379.3 940.0 376.0C941.8 372.7 938.7 365.7 941.0 366.0C943.3 366.3 949.2 374.3 954.0 378.0C958.8 381.7 964.7 384.7 970.0 388.0C975.3 391.3 982.0 394.7 986.0 398.0C990.0 401.3 990.0 405.3 994.0 408.0C998.0 410.7 1005.3 413.0 1010.0 414.0C1014.7 415.0 1020.0 414.0 1022.0 414.0" stroke="#bd2218" stroke-width="10.2"/>
<path d="M902.0 358.0C902.3 361.0 902.0 371.0 904.0 376.0C906.0 381.0 909.7 386.3 914.0 388.0C918.3 389.7 925.7 388.0 930.0 386.0C934.3 384.0 938.2 379.3 940.0 376.0C941.8 372.7 938.7 365.7 941.0 366.0C943.3 366.3 949.2 374.3 954.0 378.0C958.8 381.7 964.7 384.7 970.0 388.0C975.3 391.3 982.0 394.7 986.0 398.0C990.0 401.3 990.0 405.3 994.0 408.0C998.0 410.7 1005.3 413.0 1010.0 414.0C1014.7 415.0 1020.0 414.0 1022.0 414.0" stroke="#dc281c" stroke-width="7.5"/>
<path d="M902.0 358.0C902.3 361.0 902.0 371.0 904.0 376.0C906.0 381.0 909.7 386.3 914.0 388.0C918.3 389.7 925.7 388.0 930.0 386.0C934.3 384.0 938.2 379.3 940.0 376.0C941.8 372.7 938.7 365.7 941.0 366.0C943.3 366.3 949.2 374.3 954.0 378.0C958.8 381.7 964.7 384.7 970.0 388.0C975.3 391.3 982.0 394.7 986.0 398.0C990.0 401.3 990.0 405.3 994.0 408.0C998.0 410.7 1005.3 413.0 1010.0 414.0C1014.7 415.0 1020.0 414.0 1022.0 414.0" stroke="#e66960" stroke-width="2.4" stroke-opacity="0.7"/>
<path d="M1040.0 418.0C1041.7 419.0 1045.3 424.7 1050.0 424.0C1054.7 423.3 1062.3 415.3 1068.0 414.0C1073.7 412.7 1081.3 415.7 1084.0 416.0" stroke="#bd2218" stroke-width="10.2"/>
<path d="M1040.0 418.0C1041.7 419.0 1045.3 424.7 1050.0 424.0C1054.7 423.3 1062.3 415.3 1068.0 414.0C1073.7 412.7 1081.3 415.7 1084.0 416.0" stroke="#dc281c" stroke-width="7.5"/>
<path d="M1040.0 418.0C1041.7 419.0 1045.3 424.7 1050.0 424.0C1054.7 423.3 1062.3 415.3 1068.0 414.0C1073.7 412.7 1081.3 415.7 1084.0 416.0" stroke="#e66960" stroke-width="2.4" stroke-opacity="0.7"/>
<path d="M1047.0 438.0L1055.0 448.0" stroke="#bd2218" stroke-width="10.2"/>
<path d="M1047.0 438.0L1055.0 448.0" stroke="#dc281c" stroke-width="7.5"/>
<path d="M1047.0 438.0L1055.0 448.0" stroke="#e66960" stroke-width="2.4" stroke-opacity="0.7"/>
<path d="M1108.0 126.0C1110.0 127.0 1117.0 129.0 1120.0 132.0C1123.0 135.0 1121.3 142.3 1126.0 144.0C1130.7 145.7 1144.3 142.3 1148.0 142.0" stroke="#67a922" stroke-width="10.2"/>
<path d="M1108.0 126.0C1110.0 127.0 1117.0 129.0 1120.0 132.0C1123.0 135.0 1121.3 142.3 1126.0 144.0C1130.7 145.7 1144.3 142.3 1148.0 142.0" stroke="#78c428" stroke-width="7.5"/>
<path d="M1108.0 126.0C1110.0 127.0 1117.0 129.0 1120.0 132.0C1123.0 135.0 1121.3 142.3 1126.0 144.0C1130.7 145.7 1144.3 142.3 1148.0 142.0" stroke="#a0d669" stroke-width="2.4" stroke-opacity="0.7"/>
<path d="M1148.0 142.0C1151.3 143.0 1161.3 145.3 1168.0 148.0C1174.7 150.7 1182.7 155.3 1188.0 158.0C1193.3 160.7 1198.0 163.0 1200.0 164.0" stroke="#8a9022" stroke-width="10.2"/>
<path d="M1148.0 142.0C1151.3 143.0 1161.3 145.3 1168.0 148.0C1174.7 150.7 1182.7 155.3 1188.0 158.0C1193.3 160.7 1198.0 163.0 1200.0 164.0" stroke="#a0a828" stroke-width="7.5"/>
<path d="M1148.0 142.0C1151.3 143.0 1161.3 145.3 1168.0 148.0C1174.7 150.7 1182.7 155.3 1188.0 158.0C1193.3 160.7 1198.0 163.0 1200.0 164.0" stroke="#bcc269" stroke-width="2.4" stroke-opacity="0.7"/>
<path d="M1200.0 164.0C1202.0 165.0 1207.3 168.0 1212.0 170.0C1216.7 172.0 1222.7 175.0 1228.0 176.0C1233.3 177.0 1241.3 176.0 1244.0 176.0" stroke="#ac831a" stroke-width="10.2"/>
<path d="M1200.0 164.0C1202.0 165.0 1207.3 168.0 1212.0 170.0C1216.7 172.0 1222.7 175.0 1228.0 176.0C1233.3 177.0 1241.3 176.0 1244.0 176.0" stroke="#c8981e" stroke-width="7.5"/>
<path d="M1200.0 164.0C1202.0 165.0 1207.3 168.0 1212.0 170.0C1216.7 172.0 1222.7 175.0 1228.0 176.0C1233.3 177.0 1241.3 176.0 1244.0 176.0" stroke="#d8b762" stroke-width="2.4" stroke-opacity="0.7"/>
<path d="M988.0 120.0C987.8 117.3 986.3 108.0 987.0 104.0C987.7 100.0 989.2 97.7 992.0 96.0C994.8 94.3 998.7 93.7 1004.0 94.0C1009.3 94.3 1016.7 97.0 1024.0 98.0C1031.3 99.0 1041.3 98.7 1048.0 100.0C1054.7 101.3 1060.0 103.0 1064.0 106.0C1068.0 109.0 1068.3 114.3 1072.0 118.0C1075.7 121.7 1080.7 126.3 1086.0 128.0C1091.3 129.7 1098.3 128.2 1104.0 128.0C1109.7 127.8 1116.3 125.0 1120.0 127.0C1123.7 129.0 1125.0 137.8 1126.0 140.0" stroke="#6cb322" stroke-width="11.6"/>
<path d="M988.0 120.0C987.8 117.3 986.3 108.0 987.0 104.0C987.7 100.0 989.2 97.7 992.0 96.0C994.8 94.3 998.7 93.7 1004.0 94.0C1009.3 94.3 1016.7 97.0 1024.0 98.0C1031.3 99.0 1041.3 98.7 1048.0 100.0C1054.7 101.3 1060.0 103.0 1064.0 106.0C1068.0 109.0 1068.3 114.3 1072.0 118.0C1075.7 121.7 1080.7 126.3 1086.0 128.0C1091.3 129.7 1098.3 128.2 1104.0 128.0C1109.7 127.8 1116.3 125.0 1120.0 127.0C1123.7 129.0 1125.0 137.8 1126.0 140.0" stroke="#7ed028" stroke-width="8.6"/>
<path d="M988.0 120.0C987.8 117.3 986.3 108.0 987.0 104.0C987.7 100.0 989.2 97.7 992.0 96.0C994.8 94.3 998.7 93.7 1004.0 94.0C1009.3 94.3 1016.7 97.0 1024.0 98.0C1031.3 99.0 1041.3 98.7 1048.0 100.0C1054.7 101.3 1060.0 103.0 1064.0 106.0C1068.0 109.0 1068.3 114.3 1072.0 118.0C1075.7 121.7 1080.7 126.3 1086.0 128.0C1091.3 129.7 1098.3 128.2 1104.0 128.0C1109.7 127.8 1116.3 125.0 1120.0 127.0C1123.7 129.0 1125.0 137.8 1126.0 140.0" stroke="#a5de69" stroke-width="2.8" stroke-opacity="0.7"/>
<path d="M1048.0 138.0C1050.7 139.3 1058.7 144.7 1064.0 146.0C1069.3 147.3 1075.0 147.3 1080.0 146.0C1085.0 144.7 1089.3 140.0 1094.0 138.0C1098.7 136.0 1103.3 134.0 1108.0 134.0C1112.7 134.0 1119.7 137.3 1122.0 138.0" stroke="#83b624" stroke-width="10.2"/>
<path d="M1048.0 138.0C1050.7 139.3 1058.7 144.7 1064.0 146.0C1069.3 147.3 1075.0 147.3 1080.0 146.0C1085.0 144.7 1089.3 140.0 1094.0 138.0C1098.7 136.0 1103.3 134.0 1108.0 134.0C1112.7 134.0 1119.7 137.3 1122.0 138.0" stroke="#98d42a" stroke-width="7.5"/>
<path d="M1048.0 138.0C1050.7 139.3 1058.7 144.7 1064.0 146.0C1069.3 147.3 1075.0 147.3 1080.0 146.0C1085.0 144.7 1089.3 140.0 1094.0 138.0C1098.7 136.0 1103.3 134.0 1108.0 134.0C1112.7 134.0 1119.7 137.3 1122.0 138.0" stroke="#b7e16a" stroke-width="2.4" stroke-opacity="0.7"/>
<path d="M1022.0 170.0C1024.3 168.3 1031.0 161.0 1036.0 160.0C1041.0 159.0 1048.3 161.3 1052.0 164.0C1055.7 166.7 1059.0 172.3 1058.0 176.0C1057.0 179.7 1048.0 184.3 1046.0 186.0" stroke="#75ac22" stroke-width="8.7"/>
<path d="M1022.0 170.0C1024.3 168.3 1031.0 161.0 1036.0 160.0C1041.0 159.0 1048.3 161.3 1052.0 164.0C1055.7 166.7 1059.0 172.3 1058.0 176.0C1057.0 179.7 1048.0 184.3 1046.0 186.0" stroke="#88c828" stroke-width="6.4"/>
<path d="M1022.0 170.0C1024.3 168.3 1031.0 161.0 1036.0 160.0C1041.0 159.0 1048.3 161.3 1052.0 164.0C1055.7 166.7 1059.0 172.3 1058.0 176.0C1057.0 179.7 1048.0 184.3 1046.0 186.0" stroke="#acd869" stroke-width="2.1" stroke-opacity="0.7"/>
<path d="M1060.0 160.0C1062.7 159.3 1070.7 155.7 1076.0 156.0C1081.3 156.3 1088.0 158.7 1092.0 162.0C1096.0 165.3 1099.0 171.3 1100.0 176.0C1101.0 180.7 1100.0 186.3 1098.0 190.0C1096.0 193.7 1089.7 196.7 1088.0 198.0" stroke="#7caf22" stroke-width="8.7"/>
<path d="M1060.0 160.0C1062.7 159.3 1070.7 155.7 1076.0 156.0C1081.3 156.3 1088.0 158.7 1092.0 162.0C1096.0 165.3 1099.0 171.3 1100.0 176.0C1101.0 180.7 1100.0 186.3 1098.0 190.0C1096.0 193.7 1089.7 196.7 1088.0 198.0" stroke="#90cc28" stroke-width="6.4"/>
<path d="M1060.0 160.0C1062.7 159.3 1070.7 155.7 1076.0 156.0C1081.3 156.3 1088.0 158.7 1092.0 162.0C1096.0 165.3 1099.0 171.3 1100.0 176.0C1101.0 180.7 1100.0 186.3 1098.0 190.0C1096.0 193.7 1089.7 196.7 1088.0 198.0" stroke="#b1db69" stroke-width="2.1" stroke-opacity="0.7"/>
<ellipse cx="1122.0" cy="207.0" rx="8.0" ry="20.0" stroke="#85ad23" stroke-width="11.0" transform="rotate(6 1122 207)"/>
<ellipse cx="1122.0" cy="207.0" rx="8.0" ry="20.0" stroke="#a6d82c" stroke-width="7.9" transform="rotate(6 1122 207)"/>
<ellipse cx="1148.0" cy="210.0" rx="8.0" ry="18.0" stroke="#88ae23" stroke-width="11.0" transform="rotate(4 1148 210)"/>
<ellipse cx="1148.0" cy="210.0" rx="8.0" ry="18.0" stroke="#aada2c" stroke-width="7.9" transform="rotate(4 1148 210)"/>
<ellipse cx="1169.0" cy="212.0" rx="7.0" ry="16.0" stroke="#85ad23" stroke-width="10.0" transform="rotate(4 1169 212)"/>
<ellipse cx="1169.0" cy="212.0" rx="7.0" ry="16.0" stroke="#a6d82c" stroke-width="7.2" transform="rotate(4 1169 212)"/>
<ellipse cx="1190.0" cy="221.0" rx="6.0" ry="11.0" stroke="#80aa23" stroke-width="9.0"/>
<ellipse cx="1190.0" cy="221.0" rx="6.0" ry="11.0" stroke="#a0d42c" stroke-width="6.5"/>
<path d="M1128.0 190.0C1129.7 189.3 1135.0 185.7 1138.0 186.0C1141.0 186.3 1144.7 191.0 1146.0 192.0" stroke="#83ac22" stroke-width="8.7"/>
<path d="M1128.0 190.0C1129.7 189.3 1135.0 185.7 1138.0 186.0C1141.0 186.3 1144.7 191.0 1146.0 192.0" stroke="#98c828" stroke-width="6.4"/>
<path d="M1128.0 190.0C1129.7 189.3 1135.0 185.7 1138.0 186.0C1141.0 186.3 1144.7 191.0 1146.0 192.0" stroke="#b7d869" stroke-width="2.1" stroke-opacity="0.7"/>
<path d="M1154.0 194.0C1155.3 193.5 1159.7 190.5 1162.0 191.0C1164.3 191.5 1167.0 196.0 1168.0 197.0" stroke="#83ac22" stroke-width="8.7"/>
<path d="M1154.0 194.0C1155.3 193.5 1159.7 190.5 1162.0 191.0C1164.3 191.5 1167.0 196.0 1168.0 197.0" stroke="#98c828" stroke-width="6.4"/>
<path d="M1154.0 194.0C1155.3 193.5 1159.7 190.5 1162.0 191.0C1164.3 191.5 1167.0 196.0 1168.0 197.0" stroke="#b7d869" stroke-width="2.1" stroke-opacity="0.7"/>
<path d="M1128.0 226.0C1129.7 226.7 1135.0 230.0 1138.0 230.0C1141.0 230.0 1144.7 226.7 1146.0 226.0" stroke="#83ac22" stroke-width="8.7"/>
<path d="M1128.0 226.0C1129.7 226.7 1135.0 230.0 1138.0 230.0C1141.0 230.0 1144.7 226.7 1146.0 226.0" stroke="#98c828" stroke-width="6.4"/>
<path d="M1128.0 226.0C1129.7 226.7 1135.0 230.0 1138.0 230.0C1141.0 230.0 1144.7 226.7 1146.0 226.0" stroke="#b7d869" stroke-width="2.1" stroke-opacity="0.7"/>
<path d="M1186.0 206.0C1187.7 207.3 1194.7 210.0 1196.0 214.0C1197.3 218.0 1194.3 227.3 1194.0 230.0" stroke="#83b326" stroke-width="13.0"/>
<path d="M1186.0 206.0C1187.7 207.3 1194.7 210.0 1196.0 214.0C1197.3 218.0 1194.3 227.3 1194.0 230.0" stroke="#98d02c" stroke-width="9.7"/>
<path d="M1186.0 206.0C1187.7 207.3 1194.7 210.0 1196.0 214.0C1197.3 218.0 1194.3 227.3 1194.0 230.0" stroke="#b7de6b" stroke-width="3.1" stroke-opacity="0.7"/>
<path d="M1210.0 206.0C1211.0 209.3 1214.0 219.3 1216.0 226.0C1218.0 232.7 1221.0 242.7 1222.0 246.0" stroke="#349730" stroke-width="13.0"/>
<path d="M1210.0 206.0C1211.0 209.3 1214.0 219.3 1216.0 226.0C1218.0 232.7 1221.0 242.7 1222.0 246.0" stroke="#3cb038" stroke-width="9.7"/>
<path d="M1210.0 206.0C1211.0 209.3 1214.0 219.3 1216.0 226.0C1218.0 232.7 1221.0 242.7 1222.0 246.0" stroke="#76c874" stroke-width="3.1" stroke-opacity="0.7"/>
<path d="M1236.0 186.0C1238.3 186.7 1246.0 187.0 1250.0 190.0C1254.0 193.0 1259.3 199.0 1260.0 204.0C1260.7 209.0 1257.0 216.7 1254.0 220.0C1251.0 223.3 1244.7 225.3 1242.0 224.0C1239.3 222.7 1237.3 215.3 1238.0 212.0C1238.7 208.7 1244.7 205.3 1246.0 204.0" stroke="#9bbf2e" stroke-width="12.3"/>
<path d="M1236.0 186.0C1238.3 186.7 1246.0 187.0 1250.0 190.0C1254.0 193.0 1259.3 199.0 1260.0 204.0C1260.7 209.0 1257.0 216.7 1254.0 220.0C1251.0 223.3 1244.7 225.3 1242.0 224.0C1239.3 222.7 1237.3 215.3 1238.0 212.0C1238.7 208.7 1244.7 205.3 1246.0 204.0" stroke="#b4de36" stroke-width="9.1"/>
<path d="M1236.0 186.0C1238.3 186.7 1246.0 187.0 1250.0 190.0C1254.0 193.0 1259.3 199.0 1260.0 204.0C1260.7 209.0 1257.0 216.7 1254.0 220.0C1251.0 223.3 1244.7 225.3 1242.0 224.0C1239.3 222.7 1237.3 215.3 1238.0 212.0C1238.7 208.7 1244.7 205.3 1246.0 204.0" stroke="#cae872" stroke-width="3.0" stroke-opacity="0.7"/>
<path d="M1244.0 226.0C1246.0 227.7 1255.0 232.7 1256.0 236.0C1257.0 239.3 1251.0 244.3 1250.0 246.0" stroke="#9bbf2e" stroke-width="11.6"/>
<path d="M1244.0 226.0C1246.0 227.7 1255.0 232.7 1256.0 236.0C1257.0 239.3 1251.0 244.3 1250.0 246.0" stroke="#b4de36" stroke-width="8.6"/>
<path d="M1244.0 226.0C1246.0 227.7 1255.0 232.7 1256.0 236.0C1257.0 239.3 1251.0 244.3 1250.0 246.0" stroke="#cae872" stroke-width="2.8" stroke-opacity="0.7"/>
<path d="M1220.0 242.0C1224.0 243.7 1238.0 247.3 1244.0 252.0C1250.0 256.7 1253.7 263.0 1256.0 270.0C1258.3 277.0 1259.3 287.7 1258.0 294.0C1256.7 300.3 1251.0 307.0 1248.0 308.0C1245.0 309.0 1240.7 304.7 1240.0 300.0C1239.3 295.3 1244.0 286.7 1244.0 280.0C1244.0 273.3 1242.7 265.0 1240.0 260.0C1237.3 255.0 1230.0 251.7 1228.0 250.0" stroke="#5da926" stroke-width="11.6"/>
<path d="M1220.0 242.0C1224.0 243.7 1238.0 247.3 1244.0 252.0C1250.0 256.7 1253.7 263.0 1256.0 270.0C1258.3 277.0 1259.3 287.7 1258.0 294.0C1256.7 300.3 1251.0 307.0 1248.0 308.0C1245.0 309.0 1240.7 304.7 1240.0 300.0C1239.3 295.3 1244.0 286.7 1244.0 280.0C1244.0 273.3 1242.7 265.0 1240.0 260.0C1237.3 255.0 1230.0 251.7 1228.0 250.0" stroke="#6cc42c" stroke-width="8.6"/>
<path d="M1220.0 242.0C1224.0 243.7 1238.0 247.3 1244.0 252.0C1250.0 256.7 1253.7 263.0 1256.0 270.0C1258.3 277.0 1259.3 287.7 1258.0 294.0C1256.7 300.3 1251.0 307.0 1248.0 308.0C1245.0 309.0 1240.7 304.7 1240.0 300.0C1239.3 295.3 1244.0 286.7 1244.0 280.0C1244.0 273.3 1242.7 265.0 1240.0 260.0C1237.3 255.0 1230.0 251.7 1228.0 250.0" stroke="#98d66b" stroke-width="2.8" stroke-opacity="0.7"/>
<path d="M1192.0 262.0C1194.7 263.3 1203.3 266.7 1208.0 270.0C1212.7 273.3 1218.7 277.7 1220.0 282.0C1221.3 286.3 1216.0 290.7 1216.0 296.0C1216.0 301.3 1220.7 309.0 1220.0 314.0C1219.3 319.0 1216.0 324.3 1212.0 326.0C1208.0 327.7 1200.7 324.7 1196.0 324.0C1191.3 323.3 1187.7 322.0 1184.0 322.0C1180.3 322.0 1175.0 321.7 1174.0 324.0C1173.0 326.3 1174.7 333.0 1178.0 336.0C1181.3 339.0 1192.3 339.3 1194.0 342.0C1195.7 344.7 1189.0 350.3 1188.0 352.0" stroke="#64a926" stroke-width="11.6"/>
<path d="M1192.0 262.0C1194.7 263.3 1203.3 266.7 1208.0 270.0C1212.7 273.3 1218.7 277.7 1220.0 282.0C1221.3 286.3 1216.0 290.7 1216.0 296.0C1216.0 301.3 1220.7 309.0 1220.0 314.0C1219.3 319.0 1216.0 324.3 1212.0 326.0C1208.0 327.7 1200.7 324.7 1196.0 324.0C1191.3 323.3 1187.7 322.0 1184.0 322.0C1180.3 322.0 1175.0 321.7 1174.0 324.0C1173.0 326.3 1174.7 333.0 1178.0 336.0C1181.3 339.0 1192.3 339.3 1194.0 342.0C1195.7 344.7 1189.0 350.3 1188.0 352.0" stroke="#74c42c" stroke-width="8.6"/>
<path d="M1192.0 262.0C1194.7 263.3 1203.3 266.7 1208.0 270.0C1212.7 273.3 1218.7 277.7 1220.0 282.0C1221.3 286.3 1216.0 290.7 1216.0 296.0C1216.0 301.3 1220.7 309.0 1220.0 314.0C1219.3 319.0 1216.0 324.3 1212.0 326.0C1208.0 327.7 1200.7 324.7 1196.0 324.0C1191.3 323.3 1187.7 322.0 1184.0 322.0C1180.3 322.0 1175.0 321.7 1174.0 324.0C1173.0 326.3 1174.7 333.0 1178.0 336.0C1181.3 339.0 1192.3 339.3 1194.0 342.0C1195.7 344.7 1189.0 350.3 1188.0 352.0" stroke="#9ed66b" stroke-width="2.8" stroke-opacity="0.7"/>
<path d="M1132.0 346.0C1135.0 347.0 1144.3 349.0 1150.0 352.0C1155.7 355.0 1163.3 362.0 1166.0 364.0" stroke="#7cb337" stroke-width="11.6"/>
<path d="M1132.0 346.0C1135.0 347.0 1144.3 349.0 1150.0 352.0C1155.7 355.0 1163.3 362.0 1166.0 364.0" stroke="#90d040" stroke-width="8.6"/>
<path d="M1132.0 346.0C1135.0 347.0 1144.3 349.0 1150.0 352.0C1155.7 355.0 1163.3 362.0 1166.0 364.0" stroke="#b1de79" stroke-width="2.8" stroke-opacity="0.7"/>
<path d="M1112.0 222.0C1114.3 223.3 1123.0 226.3 1126.0 230.0C1129.0 233.7 1131.3 240.7 1130.0 244.0C1128.7 247.3 1121.0 250.7 1118.0 250.0C1115.0 249.3 1113.0 241.7 1112.0 240.0" stroke="#379e29" stroke-width="13.0"/>
<path d="M1112.0 222.0C1114.3 223.3 1123.0 226.3 1126.0 230.0C1129.0 233.7 1131.3 240.7 1130.0 244.0C1128.7 247.3 1121.0 250.7 1118.0 250.0C1115.0 249.3 1113.0 241.7 1112.0 240.0" stroke="#40b830" stroke-width="9.7"/>
<path d="M1112.0 222.0C1114.3 223.3 1123.0 226.3 1126.0 230.0C1129.0 233.7 1131.3 240.7 1130.0 244.0C1128.7 247.3 1121.0 250.7 1118.0 250.0C1115.0 249.3 1113.0 241.7 1112.0 240.0" stroke="#79cd6e" stroke-width="3.1" stroke-opacity="0.7"/>
<path d="M1116.0 262.0C1118.0 264.0 1124.0 273.0 1128.0 274.0C1132.0 275.0 1137.0 267.3 1140.0 268.0C1143.0 268.7 1146.3 275.0 1146.0 278.0C1145.7 281.0 1139.3 284.7 1138.0 286.0" stroke="#379e29" stroke-width="13.0"/>
<path d="M1116.0 262.0C1118.0 264.0 1124.0 273.0 1128.0 274.0C1132.0 275.0 1137.0 267.3 1140.0 268.0C1143.0 268.7 1146.3 275.0 1146.0 278.0C1145.7 281.0 1139.3 284.7 1138.0 286.0" stroke="#40b830" stroke-width="9.7"/>
<path d="M1116.0 262.0C1118.0 264.0 1124.0 273.0 1128.0 274.0C1132.0 275.0 1137.0 267.3 1140.0 268.0C1143.0 268.7 1146.3 275.0 1146.0 278.0C1145.7 281.0 1139.3 284.7 1138.0 286.0" stroke="#79cd6e" stroke-width="3.1" stroke-opacity="0.7"/>
<path d="M978.0 292.0C975.3 295.0 967.3 304.3 962.0 310.0C956.7 315.7 949.3 320.7 946.0 326.0C942.7 331.3 940.7 337.0 942.0 342.0C943.3 347.0 949.3 352.3 954.0 356.0C958.7 359.7 966.7 360.0 970.0 364.0C973.3 368.0 972.7 374.7 974.0 380.0C975.3 385.3 976.0 391.0 978.0 396.0C980.0 401.0 986.7 406.7 986.0 410.0C985.3 413.3 978.7 413.7 974.0 416.0C969.3 418.3 960.7 420.0 958.0 424.0C955.3 428.0 959.3 434.3 958.0 440.0C956.7 445.7 948.7 454.7 950.0 458.0C951.3 461.3 961.3 461.7 966.0 460.0C970.7 458.3 974.7 453.3 978.0 448.0C981.3 442.7 984.7 431.3 986.0 428.0" stroke="#3a9e2d" stroke-width="13.0"/>
<path d="M978.0 292.0C975.3 295.0 967.3 304.3 962.0 310.0C956.7 315.7 949.3 320.7 946.0 326.0C942.7 331.3 940.7 337.0 942.0 342.0C943.3 347.0 949.3 352.3 954.0 356.0C958.7 359.7 966.7 360.0 970.0 364.0C973.3 368.0 972.7 374.7 974.0 380.0C975.3 385.3 976.0 391.0 978.0 396.0C980.0 401.0 986.7 406.7 986.0 410.0C985.3 413.3 978.7 413.7 974.0 416.0C969.3 418.3 960.7 420.0 958.0 424.0C955.3 428.0 959.3 434.3 958.0 440.0C956.7 445.7 948.7 454.7 950.0 458.0C951.3 461.3 961.3 461.7 966.0 460.0C970.7 458.3 974.7 453.3 978.0 448.0C981.3 442.7 984.7 431.3 986.0 428.0" stroke="#44b834" stroke-width="9.7"/>
<path d="M978.0 292.0C975.3 295.0 967.3 304.3 962.0 310.0C956.7 315.7 949.3 320.7 946.0 326.0C942.7 331.3 940.7 337.0 942.0 342.0C943.3 347.0 949.3 352.3 954.0 356.0C958.7 359.7 966.7 360.0 970.0 364.0C973.3 368.0 972.7 374.7 974.0 380.0C975.3 385.3 976.0 391.0 978.0 396.0C980.0 401.0 986.7 406.7 986.0 410.0C985.3 413.3 978.7 413.7 974.0 416.0C969.3 418.3 960.7 420.0 958.0 424.0C955.3 428.0 959.3 434.3 958.0 440.0C956.7 445.7 948.7 454.7 950.0 458.0C951.3 461.3 961.3 461.7 966.0 460.0C970.7 458.3 974.7 453.3 978.0 448.0C981.3 442.7 984.7 431.3 986.0 428.0" stroke="#7ccd71" stroke-width="3.1" stroke-opacity="0.7"/>
<path d="M960.0 302.0C966.7 303.3 990.0 310.0 1000.0 310.0C1010.0 310.0 1016.7 303.3 1020.0 302.0" stroke="#309e3e" stroke-width="11.6"/>
<path d="M960.0 302.0C966.7 303.3 990.0 310.0 1000.0 310.0C1010.0 310.0 1016.7 303.3 1020.0 302.0" stroke="#38b848" stroke-width="8.6"/>
<path d="M960.0 302.0C966.7 303.3 990.0 310.0 1000.0 310.0C1010.0 310.0 1016.7 303.3 1020.0 302.0" stroke="#74cd7f" stroke-width="2.8" stroke-opacity="0.7"/>
<path d="M1020.0 300.0C1019.3 303.3 1019.0 314.0 1016.0 320.0C1013.0 326.0 1005.3 330.7 1002.0 336.0C998.7 341.3 996.0 346.7 996.0 352.0C996.0 357.3 998.7 365.0 1002.0 368.0C1005.3 371.0 1013.0 373.0 1016.0 370.0C1019.0 367.0 1019.0 356.7 1020.0 350.0C1021.0 343.3 1021.7 333.3 1022.0 330.0" stroke="#4ca529" stroke-width="17.4"/>
<path d="M1020.0 300.0C1019.3 303.3 1019.0 314.0 1016.0 320.0C1013.0 326.0 1005.3 330.7 1002.0 336.0C998.7 341.3 996.0 346.7 996.0 352.0C996.0 357.3 998.7 365.0 1002.0 368.0C1005.3 371.0 1013.0 373.0 1016.0 370.0C1019.0 367.0 1019.0 356.7 1020.0 350.0C1021.0 343.3 1021.7 333.3 1022.0 330.0" stroke="#58c030" stroke-width="12.9"/>
<path d="M1020.0 300.0C1019.3 303.3 1019.0 314.0 1016.0 320.0C1013.0 326.0 1005.3 330.7 1002.0 336.0C998.7 341.3 996.0 346.7 996.0 352.0C996.0 357.3 998.7 365.0 1002.0 368.0C1005.3 371.0 1013.0 373.0 1016.0 370.0C1019.0 367.0 1019.0 356.7 1020.0 350.0C1021.0 343.3 1021.7 333.3 1022.0 330.0" stroke="#8ad36e" stroke-width="4.2" stroke-opacity="0.7"/>
<path d="M1088.0 244.0C1090.7 246.3 1100.0 254.3 1104.0 258.0C1108.0 261.7 1113.3 261.3 1112.0 266.0C1110.7 270.7 1102.0 280.7 1096.0 286.0C1090.0 291.3 1082.0 294.0 1076.0 298.0C1070.0 302.0 1064.7 306.0 1060.0 310.0C1055.3 314.0 1052.0 317.0 1048.0 322.0C1044.0 327.0 1040.7 335.0 1036.0 340.0C1031.3 345.0 1025.0 347.0 1020.0 352.0C1015.0 357.0 1008.3 367.0 1006.0 370.0" stroke="#3ea529" stroke-width="14.5"/>
<path d="M1088.0 244.0C1090.7 246.3 1100.0 254.3 1104.0 258.0C1108.0 261.7 1113.3 261.3 1112.0 266.0C1110.7 270.7 1102.0 280.7 1096.0 286.0C1090.0 291.3 1082.0 294.0 1076.0 298.0C1070.0 302.0 1064.7 306.0 1060.0 310.0C1055.3 314.0 1052.0 317.0 1048.0 322.0C1044.0 327.0 1040.7 335.0 1036.0 340.0C1031.3 345.0 1025.0 347.0 1020.0 352.0C1015.0 357.0 1008.3 367.0 1006.0 370.0" stroke="#48c030" stroke-width="10.7"/>
<path d="M1088.0 244.0C1090.7 246.3 1100.0 254.3 1104.0 258.0C1108.0 261.7 1113.3 261.3 1112.0 266.0C1110.7 270.7 1102.0 280.7 1096.0 286.0C1090.0 291.3 1082.0 294.0 1076.0 298.0C1070.0 302.0 1064.7 306.0 1060.0 310.0C1055.3 314.0 1052.0 317.0 1048.0 322.0C1044.0 327.0 1040.7 335.0 1036.0 340.0C1031.3 345.0 1025.0 347.0 1020.0 352.0C1015.0 357.0 1008.3 367.0 1006.0 370.0" stroke="#7fd36e" stroke-width="3.5" stroke-opacity="0.7"/>
<path d="M1026.0 252.0C1028.3 253.0 1036.3 255.0 1040.0 258.0C1043.7 261.0 1046.7 268.0 1048.0 270.0" stroke="#45ac30" stroke-width="13.0"/>
<path d="M1026.0 252.0C1028.3 253.0 1036.3 255.0 1040.0 258.0C1043.7 261.0 1046.7 268.0 1048.0 270.0" stroke="#50c838" stroke-width="9.7"/>
<path d="M1026.0 252.0C1028.3 253.0 1036.3 255.0 1040.0 258.0C1043.7 261.0 1046.7 268.0 1048.0 270.0" stroke="#84d874" stroke-width="3.1" stroke-opacity="0.7"/>
<path d="M1006.0 262.0C1007.3 265.3 1011.7 275.3 1014.0 282.0C1016.3 288.7 1019.0 298.7 1020.0 302.0" stroke="#29a58a" stroke-width="11.6"/>
<path d="M1006.0 262.0C1007.3 265.3 1011.7 275.3 1014.0 282.0C1016.3 288.7 1019.0 298.7 1020.0 302.0" stroke="#30c0a0" stroke-width="8.6"/>
<path d="M1006.0 262.0C1007.3 265.3 1011.7 275.3 1014.0 282.0C1016.3 288.7 1019.0 298.7 1020.0 302.0" stroke="#6ed3bc" stroke-width="2.8" stroke-opacity="0.7"/>
<path d="M1172.0 320.0C1174.3 321.7 1181.7 325.7 1186.0 330.0C1190.3 334.3 1196.0 343.3 1198.0 346.0" stroke="#6eac30" stroke-width="11.6"/>
<path d="M1172.0 320.0C1174.3 321.7 1181.7 325.7 1186.0 330.0C1190.3 334.3 1196.0 343.3 1198.0 346.0" stroke="#80c838" stroke-width="8.6"/>
<path d="M1172.0 320.0C1174.3 321.7 1181.7 325.7 1186.0 330.0C1190.3 334.3 1196.0 343.3 1198.0 346.0" stroke="#a6d874" stroke-width="2.8" stroke-opacity="0.7"/>
<path d="M960.0 90.0L966.0 110.0" stroke="#403cac" stroke-width="10.2"/>
<path d="M960.0 90.0L966.0 110.0" stroke="#4a46c8" stroke-width="7.5"/>
<path d="M960.0 90.0L966.0 110.0" stroke="#807ed8" stroke-width="2.4" stroke-opacity="0.7"/>
<path d="M958.0 428.0C960.3 427.3 968.3 422.7 972.0 424.0C975.7 425.3 980.7 432.7 980.0 436.0C979.3 439.3 970.0 442.7 968.0 444.0" stroke="#3ea529" stroke-width="13.0"/>
<path d="M958.0 428.0C960.3 427.3 968.3 422.7 972.0 424.0C975.7 425.3 980.7 432.7 980.0 436.0C979.3 439.3 970.0 442.7 968.0 444.0" stroke="#48c030" stroke-width="9.7"/>
<path d="M958.0 428.0C960.3 427.3 968.3 422.7 972.0 424.0C975.7 425.3 980.7 432.7 980.0 436.0C979.3 439.3 970.0 442.7 968.0 444.0" stroke="#7fd36e" stroke-width="3.1" stroke-opacity="0.7"/>
<path d="M954.0 452.0C956.3 452.0 964.0 453.0 968.0 452.0C972.0 451.0 976.3 447.0 978.0 446.0" stroke="#3ea529" stroke-width="13.0"/>
<path d="M954.0 452.0C956.3 452.0 964.0 453.0 968.0 452.0C972.0 451.0 976.3 447.0 978.0 446.0" stroke="#48c030" stroke-width="9.7"/>
<path d="M954.0 452.0C956.3 452.0 964.0 453.0 968.0 452.0C972.0 451.0 976.3 447.0 978.0 446.0" stroke="#7fd36e" stroke-width="3.1" stroke-opacity="0.7"/>
<path d="M1192.0 262.0C1194.0 260.0 1199.3 252.7 1204.0 250.0C1208.7 247.3 1217.3 246.7 1220.0 246.0" stroke="#67ac29" stroke-width="11.6"/>
<path d="M1192.0 262.0C1194.0 260.0 1199.3 252.7 1204.0 250.0C1208.7 247.3 1217.3 246.7 1220.0 246.0" stroke="#78c830" stroke-width="8.6"/>
<path d="M1192.0 262.0C1194.0 260.0 1199.3 252.7 1204.0 250.0C1208.7 247.3 1217.3 246.7 1220.0 246.0" stroke="#a0d86e" stroke-width="2.8" stroke-opacity="0.7"/>
<path d="M1196.0 280.0C1198.0 281.7 1206.7 285.7 1208.0 290.0C1209.3 294.3 1204.7 303.3 1204.0 306.0" stroke="#67ac29" stroke-width="11.6"/>
<path d="M1196.0 280.0C1198.0 281.7 1206.7 285.7 1208.0 290.0C1209.3 294.3 1204.7 303.3 1204.0 306.0" stroke="#78c830" stroke-width="8.6"/>
<path d="M1196.0 280.0C1198.0 281.7 1206.7 285.7 1208.0 290.0C1209.3 294.3 1204.7 303.3 1204.0 306.0" stroke="#a0d86e" stroke-width="2.8" stroke-opacity="0.7"/>
<path d="M1044.0 262.0C1045.0 264.3 1049.7 272.3 1050.0 276.0C1050.3 279.7 1046.7 282.7 1046.0 284.0" stroke="#4590c1" stroke-width="10.2"/>
<path d="M1044.0 262.0C1045.0 264.3 1049.7 272.3 1050.0 276.0C1050.3 279.7 1046.7 282.7 1046.0 284.0" stroke="#50a8e0" stroke-width="7.5"/>
<path d="M1044.0 262.0C1045.0 264.3 1049.7 272.3 1050.0 276.0C1050.3 279.7 1046.7 282.7 1046.0 284.0" stroke="#84c2e9" stroke-width="2.4" stroke-opacity="0.7"/>
<path d="M1020.0 262.0L1032.0 256.0" stroke="#3797ba" stroke-width="8.7"/>
<path d="M1020.0 262.0L1032.0 256.0" stroke="#40b0d8" stroke-width="6.4"/>
<path d="M1020.0 262.0L1032.0 256.0" stroke="#79c8e4" stroke-width="2.1" stroke-opacity="0.7"/>
<path d="M1006.0 318.0C1006.7 321.7 1010.3 333.0 1010.0 340.0C1009.7 347.0 1005.7 353.3 1004.0 360.0C1002.3 366.7 1000.7 376.7 1000.0 380.0" stroke="#45a529" stroke-width="15.9"/>
<path d="M1006.0 318.0C1006.7 321.7 1010.3 333.0 1010.0 340.0C1009.7 347.0 1005.7 353.3 1004.0 360.0C1002.3 366.7 1000.7 376.7 1000.0 380.0" stroke="#50c030" stroke-width="11.8"/>
<path d="M1006.0 318.0C1006.7 321.7 1010.3 333.0 1010.0 340.0C1009.7 347.0 1005.7 353.3 1004.0 360.0C1002.3 366.7 1000.7 376.7 1000.0 380.0" stroke="#84d36e" stroke-width="3.8" stroke-opacity="0.7"/>
<path d="M1060.0 320.0C1063.3 319.3 1074.3 315.0 1080.0 316.0C1085.7 317.0 1093.0 322.3 1094.0 326.0C1095.0 329.7 1090.3 335.7 1086.0 338.0C1081.7 340.3 1071.0 339.7 1068.0 340.0" stroke="#37a56e" stroke-width="11.6"/>
<path d="M1060.0 320.0C1063.3 319.3 1074.3 315.0 1080.0 316.0C1085.7 317.0 1093.0 322.3 1094.0 326.0C1095.0 329.7 1090.3 335.7 1086.0 338.0C1081.7 340.3 1071.0 339.7 1068.0 340.0" stroke="#40c080" stroke-width="8.6"/>
<path d="M1060.0 320.0C1063.3 319.3 1074.3 315.0 1080.0 316.0C1085.7 317.0 1093.0 322.3 1094.0 326.0C1095.0 329.7 1090.3 335.7 1086.0 338.0C1081.7 340.3 1071.0 339.7 1068.0 340.0" stroke="#79d3a6" stroke-width="2.8" stroke-opacity="0.7"/>
<path d="M1064.0 348.0C1067.3 348.7 1079.0 350.0 1084.0 352.0C1089.0 354.0 1092.3 358.7 1094.0 360.0" stroke="#37a56e" stroke-width="10.2"/>
<path d="M1064.0 348.0C1067.3 348.7 1079.0 350.0 1084.0 352.0C1089.0 354.0 1092.3 358.7 1094.0 360.0" stroke="#40c080" stroke-width="7.5"/>
<path d="M1064.0 348.0C1067.3 348.7 1079.0 350.0 1084.0 352.0C1089.0 354.0 1092.3 358.7 1094.0 360.0" stroke="#79d3a6" stroke-width="2.4" stroke-opacity="0.7"/>
<path d="M1048.0 160.0L1044.0 174.0" stroke="#7c53ac" stroke-width="8.7"/>
<path d="M1048.0 160.0L1044.0 174.0" stroke="#9060c8" stroke-width="6.4"/>
<path d="M1048.0 160.0L1044.0 174.0" stroke="#b190d8" stroke-width="2.1" stroke-opacity="0.7"/>
<path d="M1072.0 178.0L1090.0 184.0" stroke="#7c53ac" stroke-width="8.7"/>
<path d="M1072.0 178.0L1090.0 184.0" stroke="#9060c8" stroke-width="6.4"/>
<path d="M1072.0 178.0L1090.0 184.0" stroke="#b190d8" stroke-width="2.1" stroke-opacity="0.7"/>
<path d="M1004.0 268.0C1003.3 271.7 1002.0 283.7 1000.0 290.0C998.0 296.3 993.3 303.3 992.0 306.0" stroke="#30a57c" stroke-width="11.6"/>
<path d="M1004.0 268.0C1003.3 271.7 1002.0 283.7 1000.0 290.0C998.0 296.3 993.3 303.3 992.0 306.0" stroke="#38c090" stroke-width="8.6"/>
<path d="M1004.0 268.0C1003.3 271.7 1002.0 283.7 1000.0 290.0C998.0 296.3 993.3 303.3 992.0 306.0" stroke="#74d3b1" stroke-width="2.8" stroke-opacity="0.7"/>
<path d="M1128.0 262.0C1129.7 263.0 1136.0 265.0 1138.0 268.0C1140.0 271.0 1141.0 277.3 1140.0 280.0C1139.0 282.7 1134.0 285.0 1132.0 284.0C1130.0 283.0 1128.7 275.7 1128.0 274.0" stroke="#3aa22d" stroke-width="13.0"/>
<path d="M1128.0 262.0C1129.7 263.0 1136.0 265.0 1138.0 268.0C1140.0 271.0 1141.0 277.3 1140.0 280.0C1139.0 282.7 1134.0 285.0 1132.0 284.0C1130.0 283.0 1128.7 275.7 1128.0 274.0" stroke="#44bc34" stroke-width="9.7"/>
<path d="M1128.0 262.0C1129.7 263.0 1136.0 265.0 1138.0 268.0C1140.0 271.0 1141.0 277.3 1140.0 280.0C1139.0 282.7 1134.0 285.0 1132.0 284.0C1130.0 283.0 1128.7 275.7 1128.0 274.0" stroke="#7cd071" stroke-width="3.1" stroke-opacity="0.7"/>
<path d="M1023.0 192.0C1024.8 196.2 1032.7 209.7 1034.0 217.0C1035.3 224.3 1031.5 232.8 1031.0 236.0" stroke="#8ab322" stroke-width="11.6"/>
<path d="M1023.0 192.0C1024.8 196.2 1032.7 209.7 1034.0 217.0C1035.3 224.3 1031.5 232.8 1031.0 236.0" stroke="#a0d028" stroke-width="8.6"/>
<path d="M1023.0 192.0C1024.8 196.2 1032.7 209.7 1034.0 217.0C1035.3 224.3 1031.5 232.8 1031.0 236.0" stroke="#bcde69" stroke-width="2.8" stroke-opacity="0.7"/>
<ellipse cx="1038.0" cy="188.0" rx="7.0" ry="7.0" fill="#e8e020" stroke="#b5af19" stroke-width="2.5"/>
<path d="M1047.0 167.0C1049.3 166.3 1056.3 163.8 1061.0 163.0C1065.7 162.2 1070.8 161.7 1075.0 162.0C1079.2 162.3 1082.8 163.0 1086.0 165.0C1089.2 167.0 1091.7 170.2 1094.0 174.0C1096.3 177.8 1100.0 183.8 1100.0 188.0C1100.0 192.2 1095.0 197.2 1094.0 199.0" stroke="#8aaf22" stroke-width="10.2"/>
<path d="M1047.0 167.0C1049.3 166.3 1056.3 163.8 1061.0 163.0C1065.7 162.2 1070.8 161.7 1075.0 162.0C1079.2 162.3 1082.8 163.0 1086.0 165.0C1089.2 167.0 1091.7 170.2 1094.0 174.0C1096.3 177.8 1100.0 183.8 1100.0 188.0C1100.0 192.2 1095.0 197.2 1094.0 199.0" stroke="#a0cc28" stroke-width="7.5"/>
<path d="M1047.0 167.0C1049.3 166.3 1056.3 163.8 1061.0 163.0C1065.7 162.2 1070.8 161.7 1075.0 162.0C1079.2 162.3 1082.8 163.0 1086.0 165.0C1089.2 167.0 1091.7 170.2 1094.0 174.0C1096.3 177.8 1100.0 183.8 1100.0 188.0C1100.0 192.2 1095.0 197.2 1094.0 199.0" stroke="#bcdb69" stroke-width="2.4" stroke-opacity="0.7"/>
<path d="M1067.0 167.0L1061.0 181.0" stroke="#78861c" stroke-width="7.2"/>
<path d="M1067.0 167.0L1061.0 181.0" stroke="#8c9c20" stroke-width="5.4"/>
<path d="M1067.0 167.0L1061.0 181.0" stroke="#aeba63" stroke-width="1.7" stroke-opacity="0.7"/>
<path d="M1049.0 140.0C1052.0 141.3 1060.8 147.3 1067.0 148.0C1073.2 148.7 1080.5 143.0 1086.0 144.0C1091.5 145.0 1096.0 152.8 1100.0 154.0C1104.0 155.2 1108.3 151.5 1110.0 151.0" stroke="#90b322" stroke-width="10.2"/>
<path d="M1049.0 140.0C1052.0 141.3 1060.8 147.3 1067.0 148.0C1073.2 148.7 1080.5 143.0 1086.0 144.0C1091.5 145.0 1096.0 152.8 1100.0 154.0C1104.0 155.2 1108.3 151.5 1110.0 151.0" stroke="#a8d028" stroke-width="7.5"/>
<path d="M1049.0 140.0C1052.0 141.3 1060.8 147.3 1067.0 148.0C1073.2 148.7 1080.5 143.0 1086.0 144.0C1091.5 145.0 1096.0 152.8 1100.0 154.0C1104.0 155.2 1108.3 151.5 1110.0 151.0" stroke="#c2de69" stroke-width="2.4" stroke-opacity="0.7"/>
<path d="M1028.0 144.0L1030.0 158.0" stroke="#7c60b3" stroke-width="8.7"/>
<path d="M1028.0 144.0L1030.0 158.0" stroke="#9070d0" stroke-width="6.4"/>
<path d="M1028.0 144.0L1030.0 158.0" stroke="#b19bde" stroke-width="2.1" stroke-opacity="0.7"/>
<path d="M1006.0 184.0L1017.0 182.0" stroke="#7c60b3" stroke-width="7.2"/>
<path d="M1006.0 184.0L1017.0 182.0" stroke="#9070d0" stroke-width="5.4"/>
<path d="M1006.0 184.0L1017.0 182.0" stroke="#b19bde" stroke-width="1.7" stroke-opacity="0.7"/>
<path d="M1040.0 194.0L1044.0 206.0" stroke="#754cac" stroke-width="10.2"/>
<path d="M1040.0 194.0L1044.0 206.0" stroke="#8858c8" stroke-width="7.5"/>
<path d="M1040.0 194.0L1044.0 206.0" stroke="#ac8ad8" stroke-width="2.4" stroke-opacity="0.7"/>
<path d="M1040.0 228.0L1046.0 232.0" stroke="#603ea5" stroke-width="8.7"/>
<path d="M1040.0 228.0L1046.0 232.0" stroke="#7048c0" stroke-width="6.4"/>
<path d="M1040.0 228.0L1046.0 232.0" stroke="#9b7fd3" stroke-width="2.1" stroke-opacity="0.7"/>
<path d="M1022.0 230.0L1024.0 240.0" stroke="#674cac" stroke-width="7.2"/>
<path d="M1022.0 230.0L1024.0 240.0" stroke="#7858c8" stroke-width="5.4"/>
<path d="M1022.0 230.0L1024.0 240.0" stroke="#a08ad8" stroke-width="1.7" stroke-opacity="0.7"/>
<path d="M1004.0 244.0L1010.0 252.0" stroke="#6790c8" stroke-width="8.7"/>
<path d="M1004.0 244.0L1010.0 252.0" stroke="#78a8e8" stroke-width="6.4"/>
<path d="M1004.0 244.0L1010.0 252.0" stroke="#a0c2ef" stroke-width="2.1" stroke-opacity="0.7"/>
<path d="M1092.0 206.0C1095.0 205.0 1104.3 200.3 1110.0 200.0C1115.7 199.7 1123.3 203.3 1126.0 204.0" stroke="#4cac22" stroke-width="13.0"/>
<path d="M1092.0 206.0C1095.0 205.0 1104.3 200.3 1110.0 200.0C1115.7 199.7 1123.3 203.3 1126.0 204.0" stroke="#58c828" stroke-width="9.7"/>
<path d="M1092.0 206.0C1095.0 205.0 1104.3 200.3 1110.0 200.0C1115.7 199.7 1123.3 203.3 1126.0 204.0" stroke="#8ad869" stroke-width="3.1" stroke-opacity="0.7"/>
<path d="M1100.0 236.0C1103.0 235.3 1113.0 234.3 1118.0 232.0C1123.0 229.7 1128.0 223.7 1130.0 222.0" stroke="#4cac22" stroke-width="14.5"/>
<path d="M1100.0 236.0C1103.0 235.3 1113.0 234.3 1118.0 232.0C1123.0 229.7 1128.0 223.7 1130.0 222.0" stroke="#58c828" stroke-width="10.7"/>
<path d="M1100.0 236.0C1103.0 235.3 1113.0 234.3 1118.0 232.0C1123.0 229.7 1128.0 223.7 1130.0 222.0" stroke="#8ad869" stroke-width="3.5" stroke-opacity="0.7"/>
<path d="M1014.0 250.0C1016.7 251.0 1024.7 254.0 1030.0 256.0C1035.3 258.0 1043.3 261.0 1046.0 262.0" stroke="#29a560" stroke-width="13.0"/>
<path d="M1014.0 250.0C1016.7 251.0 1024.7 254.0 1030.0 256.0C1035.3 258.0 1043.3 261.0 1046.0 262.0" stroke="#30c070" stroke-width="9.7"/>
<path d="M1014.0 250.0C1016.7 251.0 1024.7 254.0 1030.0 256.0C1035.3 258.0 1043.3 261.0 1046.0 262.0" stroke="#6ed39b" stroke-width="3.1" stroke-opacity="0.7"/>
<path d="M1066.0 254.0C1068.3 255.0 1075.3 257.7 1080.0 260.0C1084.7 262.3 1091.7 266.7 1094.0 268.0" stroke="#6745ac" stroke-width="11.6"/>
<path d="M1066.0 254.0C1068.3 255.0 1075.3 257.7 1080.0 260.0C1084.7 262.3 1091.7 266.7 1094.0 268.0" stroke="#7850c8" stroke-width="8.6"/>
<path d="M1066.0 254.0C1068.3 255.0 1075.3 257.7 1080.0 260.0C1084.7 262.3 1091.7 266.7 1094.0 268.0" stroke="#a084d8" stroke-width="2.8" stroke-opacity="0.7"/>
<path d="M1067.0 254.0C1070.2 254.0 1080.8 251.7 1086.0 254.0C1091.2 256.3 1096.0 265.7 1098.0 268.0" stroke="#5b3aa5" stroke-width="11.6"/>
<path d="M1067.0 254.0C1070.2 254.0 1080.8 251.7 1086.0 254.0C1091.2 256.3 1096.0 265.7 1098.0 268.0" stroke="#6a44c0" stroke-width="8.6"/>
<path d="M1067.0 254.0C1070.2 254.0 1080.8 251.7 1086.0 254.0C1091.2 256.3 1096.0 265.7 1098.0 268.0" stroke="#977cd3" stroke-width="2.8" stroke-opacity="0.7"/>
<path d="M1023.0 290.0L1050.0 288.0" stroke="#48379e" stroke-width="11.6"/>
<path d="M1023.0 290.0L1050.0 288.0" stroke="#5440b8" stroke-width="8.6"/>
<path d="M1023.0 290.0L1050.0 288.0" stroke="#8779cd" stroke-width="2.8" stroke-opacity="0.7"/>
<path d="M1035.0 301.0L1041.0 316.0" stroke="#4c4cac" stroke-width="10.2"/>
<path d="M1035.0 301.0L1041.0 316.0" stroke="#5858c8" stroke-width="7.5"/>
<path d="M1035.0 301.0L1041.0 316.0" stroke="#8a8ad8" stroke-width="2.4" stroke-opacity="0.7"/>
<path d="M1021.0 335.0C1023.7 333.7 1031.8 328.8 1037.0 327.0C1042.2 325.2 1049.5 324.5 1052.0 324.0" stroke="#453097" stroke-width="11.6"/>
<path d="M1021.0 335.0C1023.7 333.7 1031.8 328.8 1037.0 327.0C1042.2 325.2 1049.5 324.5 1052.0 324.0" stroke="#5038b0" stroke-width="8.6"/>
<path d="M1021.0 335.0C1023.7 333.7 1031.8 328.8 1037.0 327.0C1042.2 325.2 1049.5 324.5 1052.0 324.0" stroke="#8474c8" stroke-width="2.8" stroke-opacity="0.7"/>
<path d="M1097.0 284.0L1094.0 295.0" stroke="#40268a" stroke-width="10.2"/>
<path d="M1097.0 284.0L1094.0 295.0" stroke="#4a2ca0" stroke-width="7.5"/>
<path d="M1097.0 284.0L1094.0 295.0" stroke="#806bbc" stroke-width="2.4" stroke-opacity="0.7"/>
<path d="M1061.0 308.0L1072.0 314.0" stroke="#40268a" stroke-width="8.7"/>
<path d="M1061.0 308.0L1072.0 314.0" stroke="#4a2ca0" stroke-width="6.4"/>
<path d="M1061.0 308.0L1072.0 314.0" stroke="#806bbc" stroke-width="2.1" stroke-opacity="0.7"/>
<path d="M1027.0 343.0L1035.0 351.0" stroke="#453097" stroke-width="10.2"/>
<path d="M1027.0 343.0L1035.0 351.0" stroke="#5038b0" stroke-width="7.5"/>
<path d="M1027.0 343.0L1035.0 351.0" stroke="#8474c8" stroke-width="2.4" stroke-opacity="0.7"/>
<path d="M1047.0 349.0L1054.0 360.0" stroke="#453097" stroke-width="10.2"/>
<path d="M1047.0 349.0L1054.0 360.0" stroke="#5038b0" stroke-width="7.5"/>
<path d="M1047.0 349.0L1054.0 360.0" stroke="#8474c8" stroke-width="2.4" stroke-opacity="0.7"/>
<path d="M1024.0 364.0L1034.0 360.0" stroke="#453097" stroke-width="8.7"/>
<path d="M1024.0 364.0L1034.0 360.0" stroke="#5038b0" stroke-width="6.4"/>
<path d="M1024.0 364.0L1034.0 360.0" stroke="#8474c8" stroke-width="2.1" stroke-opacity="0.7"/>
<path d="M1067.0 357.0C1071.5 358.3 1086.3 362.3 1094.0 365.0C1101.7 367.7 1109.8 371.7 1113.0 373.0" stroke="#4d379e" stroke-width="10.2"/>
<path d="M1067.0 357.0C1071.5 358.3 1086.3 362.3 1094.0 365.0C1101.7 367.7 1109.8 371.7 1113.0 373.0" stroke="#5a40b8" stroke-width="7.5"/>
<path d="M1067.0 357.0C1071.5 358.3 1086.3 362.3 1094.0 365.0C1101.7 367.7 1109.8 371.7 1113.0 373.0" stroke="#8c79cd" stroke-width="2.4" stroke-opacity="0.7"/>
<path d="M990.0 290.0L1000.0 294.0" stroke="#5b3ea5" stroke-width="10.2"/>
<path d="M990.0 290.0L1000.0 294.0" stroke="#6a48c0" stroke-width="7.5"/>
<path d="M990.0 290.0L1000.0 294.0" stroke="#977fd3" stroke-width="2.4" stroke-opacity="0.7"/>
<path d="M1075.0 301.0L1105.0 306.0" stroke="#456eba" stroke-width="10.2"/>
<path d="M1075.0 301.0L1105.0 306.0" stroke="#5080d8" stroke-width="7.5"/>
<path d="M1075.0 301.0L1105.0 306.0" stroke="#84a6e4" stroke-width="2.4" stroke-opacity="0.7"/>
<path d="M1045.0 272.0L1050.0 280.0" stroke="#537cc1" stroke-width="8.7"/>
<path d="M1045.0 272.0L1050.0 280.0" stroke="#6090e0" stroke-width="6.4"/>
<path d="M1045.0 272.0L1050.0 280.0" stroke="#90b1e9" stroke-width="2.1" stroke-opacity="0.7"/>
<path d="M1056.0 366.0C1059.3 367.0 1069.7 371.7 1076.0 372.0C1082.3 372.3 1091.0 368.7 1094.0 368.0" stroke="#379e53" stroke-width="11.6"/>
<path d="M1056.0 366.0C1059.3 367.0 1069.7 371.7 1076.0 372.0C1082.3 372.3 1091.0 368.7 1094.0 368.0" stroke="#40b860" stroke-width="8.6"/>
<path d="M1056.0 366.0C1059.3 367.0 1069.7 371.7 1076.0 372.0C1082.3 372.3 1091.0 368.7 1094.0 368.0" stroke="#79cd90" stroke-width="2.8" stroke-opacity="0.7"/>
<path d="M908.0 118.0C911.7 119.2 922.0 124.2 930.0 125.0C938.0 125.8 949.0 125.8 956.0 123.0C963.0 120.2 969.3 110.5 972.0 108.0" stroke="#c44c16" stroke-width="18.8"/>
<path d="M908.0 118.0C911.7 119.2 922.0 124.2 930.0 125.0C938.0 125.8 949.0 125.8 956.0 123.0C963.0 120.2 969.3 110.5 972.0 108.0" stroke="#e4581a" stroke-width="13.9"/>
<path d="M908.0 118.0C911.7 119.2 922.0 124.2 930.0 125.0C938.0 125.8 949.0 125.8 956.0 123.0C963.0 120.2 969.3 110.5 972.0 108.0" stroke="#ec8a5f" stroke-width="4.5" stroke-opacity="0.7"/>
<path d="M1184.0 236.0C1186.0 237.7 1191.7 243.7 1196.0 246.0C1200.3 248.3 1205.7 250.3 1210.0 250.0C1214.3 249.7 1220.0 245.0 1222.0 244.0" stroke="#75ac29" stroke-width="10.2"/>
<path d="M1184.0 236.0C1186.0 237.7 1191.7 243.7 1196.0 246.0C1200.3 248.3 1205.7 250.3 1210.0 250.0C1214.3 249.7 1220.0 245.0 1222.0 244.0" stroke="#88c830" stroke-width="7.5"/>
<path d="M1184.0 236.0C1186.0 237.7 1191.7 243.7 1196.0 246.0C1200.3 248.3 1205.7 250.3 1210.0 250.0C1214.3 249.7 1220.0 245.0 1222.0 244.0" stroke="#acd86e" stroke-width="2.4" stroke-opacity="0.7"/>
<path d="M1200.0 264.0C1202.3 263.0 1209.0 258.3 1214.0 258.0C1219.0 257.7 1226.0 259.0 1230.0 262.0C1234.0 265.0 1236.7 273.7 1238.0 276.0" stroke="#6ba929" stroke-width="10.2"/>
<path d="M1200.0 264.0C1202.3 263.0 1209.0 258.3 1214.0 258.0C1219.0 257.7 1226.0 259.0 1230.0 262.0C1234.0 265.0 1236.7 273.7 1238.0 276.0" stroke="#7cc430" stroke-width="7.5"/>
<path d="M1200.0 264.0C1202.3 263.0 1209.0 258.3 1214.0 258.0C1219.0 257.7 1226.0 259.0 1230.0 262.0C1234.0 265.0 1236.7 273.7 1238.0 276.0" stroke="#a3d66e" stroke-width="2.4" stroke-opacity="0.7"/>
<path d="M1226.0 226.0C1227.7 227.7 1233.7 232.0 1236.0 236.0C1238.3 240.0 1239.3 247.7 1240.0 250.0" stroke="#7caf29" stroke-width="9.4"/>
<path d="M1226.0 226.0C1227.7 227.7 1233.7 232.0 1236.0 236.0C1238.3 240.0 1239.3 247.7 1240.0 250.0" stroke="#90cc30" stroke-width="7.0"/>
<path d="M1226.0 226.0C1227.7 227.7 1233.7 232.0 1236.0 236.0C1238.3 240.0 1239.3 247.7 1240.0 250.0" stroke="#b1db6e" stroke-width="2.3" stroke-opacity="0.7"/>
<path d="M1206.0 302.0C1208.7 301.3 1217.0 297.7 1222.0 298.0C1227.0 298.3 1233.7 303.0 1236.0 304.0" stroke="#60a526" stroke-width="10.2"/>
<path d="M1206.0 302.0C1208.7 301.3 1217.0 297.7 1222.0 298.0C1227.0 298.3 1233.7 303.0 1236.0 304.0" stroke="#70c02c" stroke-width="7.5"/>
<path d="M1206.0 302.0C1208.7 301.3 1217.0 297.7 1222.0 298.0C1227.0 298.3 1233.7 303.0 1236.0 304.0" stroke="#9bd36b" stroke-width="2.4" stroke-opacity="0.7"/>
<ellipse cx="1002" cy="451" rx="17" ry="7.5" stroke="#259479" stroke-width="10"/>
<ellipse cx="1002" cy="451" rx="17" ry="7.5" stroke="#34bc9c" stroke-width="7"/>
<ellipse cx="1002" cy="464" rx="17" ry="7.5" stroke="#259479" stroke-width="10"/>
<ellipse cx="1002" cy="464" rx="17" ry="7.5" stroke="#34bc9c" stroke-width="7"/>
<ellipse cx="1002" cy="477" rx="17" ry="7.5" stroke="#259479" stroke-width="10"/>
<ellipse cx="1002" cy="477" rx="17" ry="7.5" stroke="#34bc9c" stroke-width="7"/>
<ellipse cx="1002" cy="490" rx="17" ry="7.5" stroke="#259479" stroke-width="10"/>
<ellipse cx="1002" cy="490" rx="17" ry="7.5" stroke="#34bc9c" stroke-width="7"/>
<path d="M1024.0 459.0C1029.3 458.5 1046.7 455.7 1056.0 456.0C1065.3 456.3 1073.7 458.3 1080.0 461.0C1086.3 463.7 1094.0 468.5 1094.0 472.0C1094.0 475.5 1085.7 478.2 1080.0 482.0C1074.3 485.8 1059.7 491.0 1060.0 495.0C1060.3 499.0 1076.3 502.5 1082.0 506.0C1087.7 509.5 1095.0 512.8 1094.0 516.0C1093.0 519.2 1082.0 522.2 1076.0 525.0C1070.0 527.8 1058.5 530.8 1058.0 533.0C1057.5 535.2 1073.5 535.7 1073.0 538.0C1072.5 540.3 1060.5 546.2 1055.0 547.0C1049.5 547.8 1044.8 546.0 1040.0 543.0C1035.2 540.0 1029.8 534.3 1026.0 529.0C1022.2 523.7 1018.2 517.5 1017.0 511.0C1015.8 504.5 1018.2 496.5 1019.0 490.0C1019.8 483.5 1022.0 477.5 1022.0 472.0C1022.0 466.5 1019.5 459.5 1019.0 457.0" stroke="#299e83" stroke-width="10.9"/>
<path d="M1024.0 459.0C1029.3 458.5 1046.7 455.7 1056.0 456.0C1065.3 456.3 1073.7 458.3 1080.0 461.0C1086.3 463.7 1094.0 468.5 1094.0 472.0C1094.0 475.5 1085.7 478.2 1080.0 482.0C1074.3 485.8 1059.7 491.0 1060.0 495.0C1060.3 499.0 1076.3 502.5 1082.0 506.0C1087.7 509.5 1095.0 512.8 1094.0 516.0C1093.0 519.2 1082.0 522.2 1076.0 525.0C1070.0 527.8 1058.5 530.8 1058.0 533.0C1057.5 535.2 1073.5 535.7 1073.0 538.0C1072.5 540.3 1060.5 546.2 1055.0 547.0C1049.5 547.8 1044.8 546.0 1040.0 543.0C1035.2 540.0 1029.8 534.3 1026.0 529.0C1022.2 523.7 1018.2 517.5 1017.0 511.0C1015.8 504.5 1018.2 496.5 1019.0 490.0C1019.8 483.5 1022.0 477.5 1022.0 472.0C1022.0 466.5 1019.5 459.5 1019.0 457.0" stroke="#30b898" stroke-width="8.0"/>
<path d="M1024.0 459.0C1029.3 458.5 1046.7 455.7 1056.0 456.0C1065.3 456.3 1073.7 458.3 1080.0 461.0C1086.3 463.7 1094.0 468.5 1094.0 472.0C1094.0 475.5 1085.7 478.2 1080.0 482.0C1074.3 485.8 1059.7 491.0 1060.0 495.0C1060.3 499.0 1076.3 502.5 1082.0 506.0C1087.7 509.5 1095.0 512.8 1094.0 516.0C1093.0 519.2 1082.0 522.2 1076.0 525.0C1070.0 527.8 1058.5 530.8 1058.0 533.0C1057.5 535.2 1073.5 535.7 1073.0 538.0C1072.5 540.3 1060.5 546.2 1055.0 547.0C1049.5 547.8 1044.8 546.0 1040.0 543.0C1035.2 540.0 1029.8 534.3 1026.0 529.0C1022.2 523.7 1018.2 517.5 1017.0 511.0C1015.8 504.5 1018.2 496.5 1019.0 490.0C1019.8 483.5 1022.0 477.5 1022.0 472.0C1022.0 466.5 1019.5 459.5 1019.0 457.0" stroke="#6ecdb7" stroke-width="2.6" stroke-opacity="0.7"/>
<path d="M1060.0 342.0C1063.3 341.0 1073.7 336.0 1080.0 336.0C1086.3 336.0 1096.3 339.7 1098.0 342.0C1099.7 344.3 1095.3 348.7 1090.0 350.0C1084.7 351.3 1070.0 350.0 1066.0 350.0" stroke="#37a56e" stroke-width="11.6"/>
<path d="M1060.0 342.0C1063.3 341.0 1073.7 336.0 1080.0 336.0C1086.3 336.0 1096.3 339.7 1098.0 342.0C1099.7 344.3 1095.3 348.7 1090.0 350.0C1084.7 351.3 1070.0 350.0 1066.0 350.0" stroke="#40c080" stroke-width="8.6"/>
<path d="M1060.0 342.0C1063.3 341.0 1073.7 336.0 1080.0 336.0C1086.3 336.0 1096.3 339.7 1098.0 342.0C1099.7 344.3 1095.3 348.7 1090.0 350.0C1084.7 351.3 1070.0 350.0 1066.0 350.0" stroke="#79d3a6" stroke-width="2.8" stroke-opacity="0.7"/>
<path d="M1062.0 372.0C1065.0 371.0 1074.0 365.7 1080.0 366.0C1086.0 366.3 1097.0 371.3 1098.0 374.0C1099.0 376.7 1091.7 381.0 1086.0 382.0C1080.3 383.0 1067.7 380.3 1064.0 380.0" stroke="#37a56e" stroke-width="11.6"/>
<path d="M1062.0 372.0C1065.0 371.0 1074.0 365.7 1080.0 366.0C1086.0 366.3 1097.0 371.3 1098.0 374.0C1099.0 376.7 1091.7 381.0 1086.0 382.0C1080.3 383.0 1067.7 380.3 1064.0 380.0" stroke="#40c080" stroke-width="8.6"/>
<path d="M1062.0 372.0C1065.0 371.0 1074.0 365.7 1080.0 366.0C1086.0 366.3 1097.0 371.3 1098.0 374.0C1099.0 376.7 1091.7 381.0 1086.0 382.0C1080.3 383.0 1067.7 380.3 1064.0 380.0" stroke="#79d3a6" stroke-width="2.8" stroke-opacity="0.7"/>
<path d="M1040.0 402.0C1043.3 401.0 1053.3 397.3 1060.0 396.0C1066.7 394.7 1074.0 393.3 1080.0 394.0C1086.0 394.7 1095.3 397.7 1096.0 400.0C1096.7 402.3 1090.0 406.7 1084.0 408.0C1078.0 409.3 1064.0 408.0 1060.0 408.0" stroke="#37a56e" stroke-width="11.6"/>
<path d="M1040.0 402.0C1043.3 401.0 1053.3 397.3 1060.0 396.0C1066.7 394.7 1074.0 393.3 1080.0 394.0C1086.0 394.7 1095.3 397.7 1096.0 400.0C1096.7 402.3 1090.0 406.7 1084.0 408.0C1078.0 409.3 1064.0 408.0 1060.0 408.0" stroke="#40c080" stroke-width="8.6"/>
<path d="M1040.0 402.0C1043.3 401.0 1053.3 397.3 1060.0 396.0C1066.7 394.7 1074.0 393.3 1080.0 394.0C1086.0 394.7 1095.3 397.7 1096.0 400.0C1096.7 402.3 1090.0 406.7 1084.0 408.0C1078.0 409.3 1064.0 408.0 1060.0 408.0" stroke="#79d3a6" stroke-width="2.8" stroke-opacity="0.7"/>
<path d="M1044.0 428.0C1046.7 426.7 1053.3 421.3 1060.0 420.0C1066.7 418.7 1077.3 418.3 1084.0 420.0C1090.7 421.7 1099.7 426.7 1100.0 430.0C1100.3 433.3 1092.7 438.7 1086.0 440.0C1079.3 441.3 1066.7 439.0 1060.0 438.0C1053.3 437.0 1048.3 434.7 1046.0 434.0" stroke="#37a56e" stroke-width="11.6"/>
<path d="M1044.0 428.0C1046.7 426.7 1053.3 421.3 1060.0 420.0C1066.7 418.7 1077.3 418.3 1084.0 420.0C1090.7 421.7 1099.7 426.7 1100.0 430.0C1100.3 433.3 1092.7 438.7 1086.0 440.0C1079.3 441.3 1066.7 439.0 1060.0 438.0C1053.3 437.0 1048.3 434.7 1046.0 434.0" stroke="#40c080" stroke-width="8.6"/>
<path d="M1044.0 428.0C1046.7 426.7 1053.3 421.3 1060.0 420.0C1066.7 418.7 1077.3 418.3 1084.0 420.0C1090.7 421.7 1099.7 426.7 1100.0 430.0C1100.3 433.3 1092.7 438.7 1086.0 440.0C1079.3 441.3 1066.7 439.0 1060.0 438.0C1053.3 437.0 1048.3 434.7 1046.0 434.0" stroke="#79d3a6" stroke-width="2.8" stroke-opacity="0.7"/>
<path d="M1008.0 374.0C1008.7 377.7 1010.0 390.0 1012.0 396.0C1014.0 402.0 1017.0 406.0 1020.0 410.0C1023.0 414.0 1029.3 415.7 1030.0 420.0C1030.7 424.3 1025.7 430.0 1024.0 436.0C1022.3 442.0 1020.7 452.7 1020.0 456.0" stroke="#309e8a" stroke-width="11.6"/>
<path d="M1008.0 374.0C1008.7 377.7 1010.0 390.0 1012.0 396.0C1014.0 402.0 1017.0 406.0 1020.0 410.0C1023.0 414.0 1029.3 415.7 1030.0 420.0C1030.7 424.3 1025.7 430.0 1024.0 436.0C1022.3 442.0 1020.7 452.7 1020.0 456.0" stroke="#38b8a0" stroke-width="8.6"/>
<path d="M1008.0 374.0C1008.7 377.7 1010.0 390.0 1012.0 396.0C1014.0 402.0 1017.0 406.0 1020.0 410.0C1023.0 414.0 1029.3 415.7 1030.0 420.0C1030.7 424.3 1025.7 430.0 1024.0 436.0C1022.3 442.0 1020.7 452.7 1020.0 456.0" stroke="#74cdbc" stroke-width="2.8" stroke-opacity="0.7"/>
<path d="M1192.0 168.0C1193.7 166.3 1197.3 160.0 1202.0 158.0C1206.7 156.0 1214.3 154.7 1220.0 156.0C1225.7 157.3 1233.0 162.3 1236.0 166.0C1239.0 169.7 1240.0 174.3 1238.0 178.0C1236.0 181.7 1226.7 183.7 1224.0 188.0C1221.3 192.3 1221.3 199.3 1222.0 204.0C1222.7 208.7 1228.3 212.0 1228.0 216.0C1227.7 220.0 1223.0 224.0 1220.0 228.0C1217.0 232.0 1213.3 236.0 1210.0 240.0C1206.7 244.0 1201.7 250.0 1200.0 252.0" stroke="#1c97c6" stroke-width="9.0"/>
<path d="M1192.0 168.0C1193.7 166.3 1197.3 160.0 1202.0 158.0C1206.7 156.0 1214.3 154.7 1220.0 156.0C1225.7 157.3 1233.0 162.3 1236.0 166.0C1239.0 169.7 1240.0 174.3 1238.0 178.0C1236.0 181.7 1226.7 183.7 1224.0 188.0C1221.3 192.3 1221.3 199.3 1222.0 204.0C1222.7 208.7 1228.3 212.0 1228.0 216.0C1227.7 220.0 1223.0 224.0 1220.0 228.0C1217.0 232.0 1213.3 236.0 1210.0 240.0C1206.7 244.0 1201.7 250.0 1200.0 252.0" stroke="#20b0e6" stroke-width="6.7"/>
<path d="M1192.0 168.0C1193.7 166.3 1197.3 160.0 1202.0 158.0C1206.7 156.0 1214.3 154.7 1220.0 156.0C1225.7 157.3 1233.0 162.3 1236.0 166.0C1239.0 169.7 1240.0 174.3 1238.0 178.0C1236.0 181.7 1226.7 183.7 1224.0 188.0C1221.3 192.3 1221.3 199.3 1222.0 204.0C1222.7 208.7 1228.3 212.0 1228.0 216.0C1227.7 220.0 1223.0 224.0 1220.0 228.0C1217.0 232.0 1213.3 236.0 1210.0 240.0C1206.7 244.0 1201.7 250.0 1200.0 252.0" stroke="#63c8ee" stroke-width="2.2" stroke-opacity="0.7"/>
<path d="M1188.0 172.0C1189.0 174.7 1193.7 182.7 1194.0 188.0C1194.3 193.3 1192.0 199.0 1190.0 204.0C1188.0 209.0 1184.7 213.0 1182.0 218.0C1179.3 223.0 1177.3 229.3 1174.0 234.0C1170.7 238.7 1165.0 241.3 1162.0 246.0C1159.0 250.7 1156.3 256.0 1156.0 262.0C1155.7 268.0 1158.3 276.3 1160.0 282.0C1161.7 287.7 1165.0 293.7 1166.0 296.0" stroke="#1c97c6" stroke-width="9.0"/>
<path d="M1188.0 172.0C1189.0 174.7 1193.7 182.7 1194.0 188.0C1194.3 193.3 1192.0 199.0 1190.0 204.0C1188.0 209.0 1184.7 213.0 1182.0 218.0C1179.3 223.0 1177.3 229.3 1174.0 234.0C1170.7 238.7 1165.0 241.3 1162.0 246.0C1159.0 250.7 1156.3 256.0 1156.0 262.0C1155.7 268.0 1158.3 276.3 1160.0 282.0C1161.7 287.7 1165.0 293.7 1166.0 296.0" stroke="#20b0e6" stroke-width="6.7"/>
<path d="M1188.0 172.0C1189.0 174.7 1193.7 182.7 1194.0 188.0C1194.3 193.3 1192.0 199.0 1190.0 204.0C1188.0 209.0 1184.7 213.0 1182.0 218.0C1179.3 223.0 1177.3 229.3 1174.0 234.0C1170.7 238.7 1165.0 241.3 1162.0 246.0C1159.0 250.7 1156.3 256.0 1156.0 262.0C1155.7 268.0 1158.3 276.3 1160.0 282.0C1161.7 287.7 1165.0 293.7 1166.0 296.0" stroke="#63c8ee" stroke-width="2.2" stroke-opacity="0.7"/>
<path d="M1178.0 242.0C1179.7 244.3 1186.0 250.0 1188.0 256.0C1190.0 262.0 1191.7 272.3 1190.0 278.0C1188.3 283.7 1182.3 287.0 1178.0 290.0C1173.7 293.0 1169.7 295.3 1164.0 296.0C1158.3 296.7 1150.0 294.0 1144.0 294.0C1138.0 294.0 1133.0 293.7 1128.0 296.0C1123.0 298.3 1119.0 303.7 1114.0 308.0C1109.0 312.3 1103.7 318.3 1098.0 322.0C1092.3 325.7 1085.0 326.7 1080.0 330.0C1075.0 333.3 1072.7 339.3 1068.0 342.0C1063.3 344.7 1056.7 344.0 1052.0 346.0C1047.3 348.0 1042.7 350.7 1040.0 354.0C1037.3 357.3 1036.7 364.0 1036.0 366.0" stroke="#1d9bc4" stroke-width="9.0"/>
<path d="M1178.0 242.0C1179.7 244.3 1186.0 250.0 1188.0 256.0C1190.0 262.0 1191.7 272.3 1190.0 278.0C1188.3 283.7 1182.3 287.0 1178.0 290.0C1173.7 293.0 1169.7 295.3 1164.0 296.0C1158.3 296.7 1150.0 294.0 1144.0 294.0C1138.0 294.0 1133.0 293.7 1128.0 296.0C1123.0 298.3 1119.0 303.7 1114.0 308.0C1109.0 312.3 1103.7 318.3 1098.0 322.0C1092.3 325.7 1085.0 326.7 1080.0 330.0C1075.0 333.3 1072.7 339.3 1068.0 342.0C1063.3 344.7 1056.7 344.0 1052.0 346.0C1047.3 348.0 1042.7 350.7 1040.0 354.0C1037.3 357.3 1036.7 364.0 1036.0 366.0" stroke="#22b4e4" stroke-width="6.7"/>
<path d="M1178.0 242.0C1179.7 244.3 1186.0 250.0 1188.0 256.0C1190.0 262.0 1191.7 272.3 1190.0 278.0C1188.3 283.7 1182.3 287.0 1178.0 290.0C1173.7 293.0 1169.7 295.3 1164.0 296.0C1158.3 296.7 1150.0 294.0 1144.0 294.0C1138.0 294.0 1133.0 293.7 1128.0 296.0C1123.0 298.3 1119.0 303.7 1114.0 308.0C1109.0 312.3 1103.7 318.3 1098.0 322.0C1092.3 325.7 1085.0 326.7 1080.0 330.0C1075.0 333.3 1072.7 339.3 1068.0 342.0C1063.3 344.7 1056.7 344.0 1052.0 346.0C1047.3 348.0 1042.7 350.7 1040.0 354.0C1037.3 357.3 1036.7 364.0 1036.0 366.0" stroke="#64caec" stroke-width="2.2" stroke-opacity="0.7"/>
<path d="M1012.0 262.0C1012.7 264.3 1016.3 271.3 1016.0 276.0C1015.7 280.7 1011.0 287.7 1010.0 290.0" stroke="#229eba" stroke-width="11.6"/>
<path d="M1012.0 262.0C1012.7 264.3 1016.3 271.3 1016.0 276.0C1015.7 280.7 1011.0 287.7 1010.0 290.0" stroke="#28b8d8" stroke-width="8.6"/>
<path d="M1012.0 262.0C1012.7 264.3 1016.3 271.3 1016.0 276.0C1015.7 280.7 1011.0 287.7 1010.0 290.0" stroke="#69cde4" stroke-width="2.8" stroke-opacity="0.7"/>
<path d="M1032.0 362.0C1034.0 359.3 1039.3 349.3 1044.0 346.0C1048.7 342.7 1054.7 343.3 1060.0 342.0C1065.3 340.7 1073.3 338.7 1076.0 338.0" stroke="#1c97c6" stroke-width="9.4"/>
<path d="M1032.0 362.0C1034.0 359.3 1039.3 349.3 1044.0 346.0C1048.7 342.7 1054.7 343.3 1060.0 342.0C1065.3 340.7 1073.3 338.7 1076.0 338.0" stroke="#20b0e6" stroke-width="7.0"/>
<path d="M1032.0 362.0C1034.0 359.3 1039.3 349.3 1044.0 346.0C1048.7 342.7 1054.7 343.3 1060.0 342.0C1065.3 340.7 1073.3 338.7 1076.0 338.0" stroke="#63c8ee" stroke-width="2.3" stroke-opacity="0.7"/>
<path d="M1024.0 414.0L1032.0 424.0" stroke="#45acc1" stroke-width="11.6"/>
<path d="M1024.0 414.0L1032.0 424.0" stroke="#50c8e0" stroke-width="8.6"/>
<path d="M1024.0 414.0L1032.0 424.0" stroke="#84d8e9" stroke-width="2.8" stroke-opacity="0.7"/>
<path d="M1104.0 324.0C1106.0 326.7 1114.7 334.7 1116.0 340.0C1117.3 345.3 1112.0 350.3 1112.0 356.0C1112.0 361.7 1113.3 368.7 1116.0 374.0C1118.7 379.3 1124.0 387.3 1128.0 388.0C1132.0 388.7 1139.3 382.0 1140.0 378.0C1140.7 374.0 1135.3 367.3 1132.0 364.0C1128.7 360.7 1122.0 359.0 1120.0 358.0" stroke="#4d349b" stroke-width="13.0"/>
<path d="M1104.0 324.0C1106.0 326.7 1114.7 334.7 1116.0 340.0C1117.3 345.3 1112.0 350.3 1112.0 356.0C1112.0 361.7 1113.3 368.7 1116.0 374.0C1118.7 379.3 1124.0 387.3 1128.0 388.0C1132.0 388.7 1139.3 382.0 1140.0 378.0C1140.7 374.0 1135.3 367.3 1132.0 364.0C1128.7 360.7 1122.0 359.0 1120.0 358.0" stroke="#5a3cb4" stroke-width="9.7"/>
<path d="M1104.0 324.0C1106.0 326.7 1114.7 334.7 1116.0 340.0C1117.3 345.3 1112.0 350.3 1112.0 356.0C1112.0 361.7 1113.3 368.7 1116.0 374.0C1118.7 379.3 1124.0 387.3 1128.0 388.0C1132.0 388.7 1139.3 382.0 1140.0 378.0C1140.7 374.0 1135.3 367.3 1132.0 364.0C1128.7 360.7 1122.0 359.0 1120.0 358.0" stroke="#8c76ca" stroke-width="3.1" stroke-opacity="0.7"/>
<path d="M1120.0 342.0C1123.3 341.0 1133.3 337.3 1140.0 336.0C1146.7 334.7 1154.3 332.7 1160.0 334.0C1165.7 335.3 1171.3 339.7 1174.0 344.0C1176.7 348.3 1178.0 357.3 1176.0 360.0C1174.0 362.7 1165.3 358.0 1162.0 360.0C1158.7 362.0 1155.3 368.3 1156.0 372.0C1156.7 375.7 1164.0 377.7 1166.0 382.0C1168.0 386.3 1170.3 394.7 1168.0 398.0C1165.7 401.3 1156.7 403.3 1152.0 402.0C1147.3 400.7 1143.3 395.0 1140.0 390.0C1136.7 385.0 1133.3 375.0 1132.0 372.0" stroke="#4d349b" stroke-width="13.0"/>
<path d="M1120.0 342.0C1123.3 341.0 1133.3 337.3 1140.0 336.0C1146.7 334.7 1154.3 332.7 1160.0 334.0C1165.7 335.3 1171.3 339.7 1174.0 344.0C1176.7 348.3 1178.0 357.3 1176.0 360.0C1174.0 362.7 1165.3 358.0 1162.0 360.0C1158.7 362.0 1155.3 368.3 1156.0 372.0C1156.7 375.7 1164.0 377.7 1166.0 382.0C1168.0 386.3 1170.3 394.7 1168.0 398.0C1165.7 401.3 1156.7 403.3 1152.0 402.0C1147.3 400.7 1143.3 395.0 1140.0 390.0C1136.7 385.0 1133.3 375.0 1132.0 372.0" stroke="#5a3cb4" stroke-width="9.7"/>
<path d="M1120.0 342.0C1123.3 341.0 1133.3 337.3 1140.0 336.0C1146.7 334.7 1154.3 332.7 1160.0 334.0C1165.7 335.3 1171.3 339.7 1174.0 344.0C1176.7 348.3 1178.0 357.3 1176.0 360.0C1174.0 362.7 1165.3 358.0 1162.0 360.0C1158.7 362.0 1155.3 368.3 1156.0 372.0C1156.7 375.7 1164.0 377.7 1166.0 382.0C1168.0 386.3 1170.3 394.7 1168.0 398.0C1165.7 401.3 1156.7 403.3 1152.0 402.0C1147.3 400.7 1143.3 395.0 1140.0 390.0C1136.7 385.0 1133.3 375.0 1132.0 372.0" stroke="#8c76ca" stroke-width="3.1" stroke-opacity="0.7"/>
<circle cx="1060" cy="201" r="12" fill="#0e0812" stroke="none"/>
<circle cx="1076" cy="200" r="12" fill="#0e0812" stroke="none"/>
<circle cx="1068" cy="213" r="13" fill="#0e0812" stroke="none"/>
<circle cx="1050" cy="221" r="12" fill="#0e0812" stroke="none"/>
<circle cx="1062" cy="229" r="13" fill="#0e0812" stroke="none"/>
<circle cx="1080" cy="223" r="13" fill="#0e0812" stroke="none"/>
<circle cx="1096" cy="227" r="12" fill="#0e0812" stroke="none"/>
<circle cx="1055" cy="240" r="11" fill="#0e0812" stroke="none"/>
<circle cx="1070" cy="242" r="11" fill="#0e0812" stroke="none"/>
<circle cx="1084" cy="237" r="11" fill="#0e0812" stroke="none"/>
</g>
<!--PROTEIN_END-->
</svg>

<!-- CHEMICAL STRUCTURE -->
<svg id="chem" class="abs" style="left:0;top:0" width="460" height="400" viewBox="0 0 460 400">
<g fill="none" stroke="#000" stroke-width="4.1" stroke-linecap="round" stroke-linejoin="round">
<path d="M16 160.5 L74 127.5 L132.5 160.5 L132.5 227 L74 260 L16 227 Z"/>
<path d="M132.5 160.5 L189.8 128.5 L247.5 160.5 L247.5 227 L203.5 251.8"/>
<path d="M132.5 227 L176 251.8"/>
<path d="M247.5 227 L304 260"/>
<path d="M304 260 L361.5 227 L419 260 L419 326.5 L361.5 359.5 L304 326.5 Z"/>
</g>
<g fill="none" stroke="#000" stroke-width="3.3" stroke-linecap="round">
<path d="M186.2 129 L186.2 76.8"/>
<path d="M192.9 129 L192.9 76.8"/>
<path d="M22.6 168 L22.6 219.5"/>
<path d="M76.9 136.6 L123.2 162.7"/>
<path d="M76.9 250.9 L123.2 224.8"/>
<path d="M240.9 168 L240.9 219.5"/>
<path d="M310.6 267.4 L310.6 319.2"/>
<path d="M364.3 236 L409.4 262.2"/>
<path d="M364.3 350.5 L409.4 324.3"/>
</g>
<g font-family="Liberation Sans, sans-serif" font-size="23.6" fill="#f01c1c" stroke="#f01c1c" stroke-width="0.7" text-anchor="middle">
<text x="190" y="69.4">O</text>
<text x="189.8" y="268.8">O</text>
</g>
<g font-family="Liberation Serif, serif" font-weight="bold" font-size="34.5" fill="#000" text-anchor="middle">
<text x="72.7" y="201.5">A</text>
<text x="189.3" y="203.2">C</text>
<text x="360.5" y="304.4">B</text>
</g>
</svg>

<!-- arrow 1 -->
<svg class="abs" style="left:0;top:0" width="1308" height="949" viewBox="0 0 1308 949">
<rect x="372.5" y="206.8" width="300" height="6.4" fill="#000"/>
<path d="M668 199.5 L707 210 L668 221 Z" fill="#000"/>
<!-- arrow 2 -->
<rect x="1133" y="544.5" width="8.4" height="201.5" fill="#000"/>
<rect x="905" y="737.3" width="236" height="5.2" fill="#000"/>
<path d="M910 731 L879 740 L910 749 Z" fill="#000"/>
</svg>

<div id="ifd" class="abs bold">Induced Fit Docking</div>
<div id="xo" class="abs bold">Xanthine<br>oxidase</div>

<!-- CHART -->
<div id="chart"></div>
<div id="title" class="abs bold">Induced Fit Docking Scores (Kcal/mol)</div>

<div class="gl" style="top:498.1px"></div>
<div class="gl" style="top:550.3px"></div>
<div class="gl" style="top:602.6px"></div>
<div class="gl" style="top:654.8px"></div>
<div class="gl" style="top:707.1px"></div>
<div class="gl" style="top:759.4px"></div>
<div class="gl" style="top:811.6px"></div>
<div class="gl" style="top:863.9px"></div>
<div class="gl" style="top:916.1px"></div>

<div class="abs yl" style="top:491.0px">-1514</div>
<div class="abs yl" style="top:543.3px">-1516</div>
<div class="abs yl" style="top:595.5px">-1518</div>
<div class="abs yl" style="top:647.8px">-1520</div>
<div class="abs yl" style="top:700.1px">-1522</div>
<div class="abs yl" style="top:752.4px">-1524</div>
<div class="abs yl" style="top:804.6px">-1526</div>
<div class="abs yl" style="top:856.9px">-1528</div>
<div class="abs yl" style="top:909.2px">-1530</div>

<div class="bar" style="left:109.8px;height:336.1px"></div>
<div class="bar" style="left:230.0px;height:365.7px"></div>
<div class="bar" style="left:349.0px;height:293.7px"></div>
<div class="bar" style="left:467.3px;height:303.1px"></div>
<div class="bar" style="left:587.7px;height:307.8px"></div>
<div class="bar" style="left:706.5px;height:129.8px"></div>

<div class="abs cat" style="left:141.5px">Compound 1</div>
<div class="abs cat" style="left:259.5px">Compound 2</div>
<div class="abs cat" style="left:377.5px">Compound 3</div>
<div class="abs cat" style="left:493.5px">Compound 4</div>
<div class="abs cat" style="left:611.7px">Compound 5</div>
<div class="abs cat" style="left:729px">Allopurinol</div>

<div class="abs dl" style="left:140px">1</div>
<div class="abs dl" style="left:260px">2</div>
<div class="abs dl" style="left:379.5px">3</div>
<div class="abs dl" style="left:497.5px">4</div>
<div class="abs dl" style="left:617.5px">5</div>
<div class="abs dl" style="left:737px">6</div>

<div id="frame"></div>
</body>
</html>
